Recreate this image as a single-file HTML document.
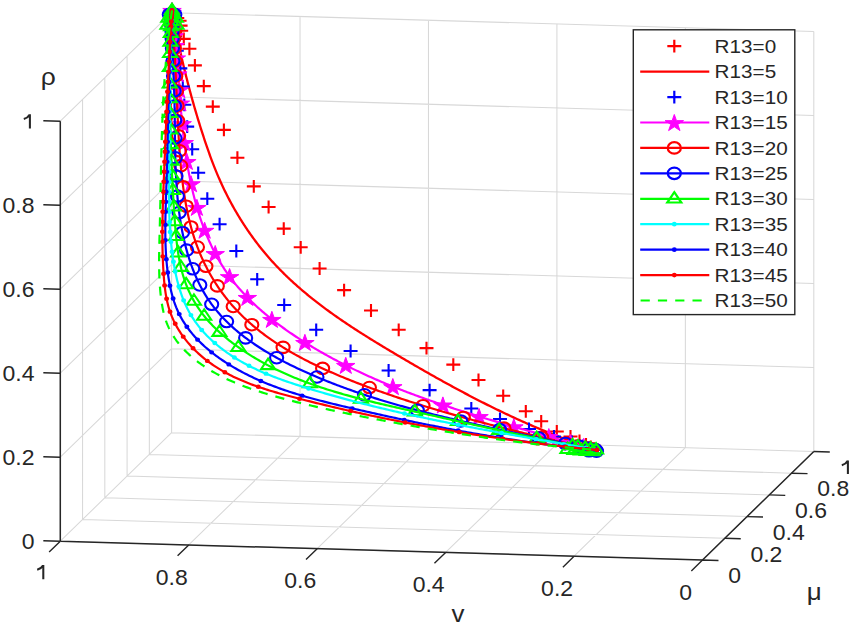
<!DOCTYPE html>
<html><head><meta charset="utf-8"><style>
html,body{margin:0;padding:0;background:#fff;}
svg{display:block;}
text{font-family:"Liberation Sans",sans-serif;fill:#262626;}
</style></head><body>
<svg width="851" height="624" viewBox="0 0 851 624">
<rect width="851" height="624" fill="#fff"/>
<path d="M702.5 560L813.8 451.5M60.3 541.2L702.5 560M574.06 556.24L685.36 447.74M82.56 519.5L724.76 538.3M445.62 552.48L556.92 443.98M104.82 497.8L747.02 516.6M317.18 548.72L428.48 440.22M127.08 476.1L769.28 494.9M188.74 544.96L300.04 436.46M149.34 454.4L791.54 473.2M60.3 541.2L171.6 432.7M171.6 432.7L813.8 451.5M60.3 541.2L60.3 121.2M60.3 541.2L171.6 432.7M82.56 519.5L82.56 99.5M60.3 457.2L171.6 348.7M104.82 497.8L104.82 77.8M60.3 373.2L171.6 264.7M127.08 476.1L127.08 56.1M60.3 289.2L171.6 180.7M149.34 454.4L149.34 34.4M60.3 205.2L171.6 96.7M171.6 432.7L171.6 12.7M60.3 121.2L171.6 12.7M813.8 451.5L813.8 31.5M171.6 432.7L813.8 451.5M685.36 447.74L685.36 27.74M171.6 348.7L813.8 367.5M556.92 443.98L556.92 23.98M171.6 264.7L813.8 283.5M428.48 440.22L428.48 20.22M171.6 180.7L813.8 199.5M300.04 436.46L300.04 16.46M171.6 96.7L813.8 115.5M171.6 432.7L171.6 12.7M171.6 12.7L813.8 31.5" stroke="#d8d8d8" stroke-width="1.05" fill="none"/>
<path d="M165.32 11H179.28M172.3 4.6V17.4M167.52 15H181.48M174.5 8.6V21.4M170.32 18H184.28M177.3 11.6V24.4M172.62 20.8H186.58M179.6 14.4V27.2M173.62 25.6H187.58M180.6 19.2V32M174.22 30.8H188.18M181.2 24.4V37.2M176.82 38.9H190.78M183.8 32.5V45.3M182.42 48.8H196.38M189.4 42.4V55.2M187.92 65.4H201.88M194.9 59V71.8M196.82 86.1H210.78M203.8 79.7V92.5M205.82 106.6H219.78M212.8 100.2V113M216.92 129.9H230.88M223.9 123.5V136.3M230.42 157.7H244.38M237.4 151.3V164.1M246.82 186.4H260.78M253.8 180V192.8M261.62 207H275.58M268.6 200.6V213.4M276.77 228.6H290.73M283.75 222.2V235M293.72 247.3H307.68M300.7 240.9V253.7M312.62 268.5H326.58M319.6 262.1V274.9M337.12 290.1H351.08M344.1 283.7V296.5M364.02 310.5H377.98M371 304.1V316.9M391.72 329.8H405.68M398.7 323.4V336.2M419.52 348.1H433.48M426.5 341.7V354.5M446.32 364.6H460.28M453.3 358.2V371M471.52 380H485.48M478.5 373.6V386.4M496.22 395.8H510.18M503.2 389.4V402.2M518.82 411.3H532.78M525.8 404.9V417.7M534.22 421.3H548.18M541.2 414.9V427.7M549.82 431.5H563.78M556.8 425.1V437.9M563.52 436.5H577.48M570.5 430.1V442.9M572.52 441H586.48M579.5 434.6V447.4M579.02 444.5H592.98M586 438.1V450.9M583.82 447H597.78M590.8 440.6V453.4M587.22 448.8H601.18M594.2 442.4V455.2M589.52 449.8H603.48M596.5 443.4V456.2" stroke="#ff0000" stroke-width="2.1" fill="none"/>
<path d="M172 10.3L172.3 11.94L172.6 13.58L172.9 15.21L173.2 16.84L173.51 18.47L173.81 20.1L174.12 21.73L174.44 23.35L174.75 24.97L175.07 26.59L175.39 28.21L175.71 29.83L176.03 31.44L176.36 33.05L176.68 34.66L177.01 36.27L177.35 37.88L177.68 39.48L178.02 41.09L178.36 42.69L178.7 44.29L179.04 45.88L179.39 47.48L179.74 49.07L180.09 50.67L180.44 52.26L180.8 53.85L181.16 55.43L181.52 57.02L181.88 58.6L182.25 60.19L182.61 61.77L182.98 63.35L183.36 64.92L183.73 66.5L184.11 68.07L184.49 69.65L184.87 71.22L185.26 72.79L185.65 74.36L186.04 75.93L186.43 77.49L186.83 79.06L187.23 80.62L187.63 82.18L188.03 83.75L188.44 85.31L188.85 86.86L189.26 88.42L189.67 89.98L190.09 91.53L190.51 93.09L190.93 94.64L191.35 96.19L191.78 97.74L192.21 99.29L192.64 100.84L193.08 102.39L193.52 103.93L193.96 105.48L194.4 107.02L194.85 108.57L195.3 110.11L195.75 111.65L196.2 113.19L196.66 114.73L197.12 116.27L197.59 117.81L198.05 119.34L198.52 120.88L198.99 122.42L199.47 123.95L199.95 125.49L200.43 127.02L200.91 128.55L201.4 130.08L201.89 131.62L202.38 133.15L202.87 134.68L203.37 136.21L203.87 137.74L204.38 139.26L204.88 140.79L205.39 142.32L205.91 143.84L206.43 145.37L206.95 146.89L207.48 148.42L208.01 149.94L208.54 151.46L209.08 152.98L209.63 154.5L210.18 156.02L210.73 157.53L211.29 159.05L211.86 160.56L212.43 162.07L213.01 163.58L213.59 165.09L214.18 166.6L214.78 168.1L215.38 169.6L215.99 171.1L216.61 172.6L217.23 174.1L217.86 175.59L218.5 177.09L219.15 178.58L219.8 180.06L220.46 181.55L221.13 183.03L221.81 184.51L222.5 185.99L223.19 187.46L223.89 188.93L224.6 190.4L225.32 191.87L226.04 193.33L226.77 194.79L227.51 196.25L228.26 197.7L229.02 199.15L229.78 200.6L230.55 202.04L231.33 203.48L232.12 204.92L232.91 206.35L233.71 207.78L234.52 209.2L235.34 210.62L236.16 212.04L236.99 213.45L237.83 214.86L238.68 216.27L239.53 217.67L240.39 219.06L241.26 220.45L242.14 221.84L243.02 223.22L243.91 224.6L244.81 225.97L245.72 227.34L246.63 228.7L247.55 230.06L248.48 231.41L249.41 232.75L250.35 234.1L251.3 235.43L252.26 236.76L253.22 238.09L254.19 239.41L255.17 240.72L256.15 242.03L257.15 243.33L258.14 244.63L259.15 245.92L260.16 247.2L261.18 248.48L262.21 249.75L263.24 251.02L264.28 252.28L265.33 253.53L266.39 254.78L267.45 256.02L268.51 257.25L269.59 258.48L270.67 259.7L271.76 260.91L272.85 262.12L273.96 263.32L275.06 264.51L276.18 265.7L277.3 266.88L278.43 268.05L279.56 269.22L280.7 270.39L281.84 271.54L283 272.69L284.15 273.84L285.32 274.97L286.49 276.11L287.66 277.23L288.84 278.35L290.03 279.47L291.22 280.58L292.42 281.68L293.62 282.78L294.83 283.87L296.04 284.96L297.26 286.04L298.49 287.11L299.72 288.18L300.95 289.25L302.19 290.31L303.43 291.37L304.68 292.42L305.94 293.46L307.19 294.5L308.46 295.54L309.72 296.57L311 297.6L312.27 298.62L313.55 299.63L314.84 300.65L316.13 301.65L317.42 302.66L318.72 303.65L320.02 304.65L321.33 305.64L322.64 306.63L323.95 307.61L325.27 308.58L326.59 309.56L327.91 310.53L329.24 311.49L330.57 312.45L331.91 313.41L333.25 314.37L334.59 315.32L335.93 316.26L337.28 317.21L338.63 318.14L339.99 319.08L341.34 320.01L342.7 320.94L344.07 321.87L345.43 322.79L346.8 323.71L348.17 324.63L349.55 325.54L350.92 326.45L352.3 327.36L353.68 328.26L355.07 329.16L356.45 330.06L357.84 330.95L359.23 331.85L360.62 332.74L362.02 333.62L363.41 334.51L364.81 335.39L366.21 336.27L367.61 337.15L369.01 338.03L370.42 338.9L371.82 339.77L373.23 340.64L374.64 341.51L376.05 342.37L377.46 343.23L378.87 344.1L380.29 344.95L381.7 345.81L383.12 346.67L384.54 347.52L385.95 348.37L387.37 349.23L388.79 350.07L390.21 350.92L391.63 351.77L393.05 352.61L394.47 353.46L395.89 354.3L397.32 355.14L398.74 355.98L400.16 356.82L401.58 357.66L403.01 358.5L404.43 359.33L405.85 360.17L407.28 361L408.7 361.83L410.13 362.67L411.55 363.5L412.98 364.32L414.4 365.15L415.83 365.98L417.25 366.8L418.68 367.63L420.11 368.45L421.54 369.27L422.96 370.09L424.39 370.9L425.82 371.72L427.25 372.54L428.68 373.35L430.11 374.16L431.54 374.97L432.98 375.78L434.41 376.58L435.84 377.39L437.28 378.19L438.71 378.99L440.14 379.79L441.58 380.59L443.02 381.39L444.45 382.18L445.89 382.98L447.33 383.77L448.77 384.56L450.21 385.35L451.65 386.13L453.09 386.92L454.53 387.7L455.97 388.48L457.41 389.25L458.86 390.03L460.3 390.8L461.75 391.58L463.2 392.35L464.64 393.11L466.09 393.88L467.54 394.64L468.99 395.4L470.44 396.16L471.89 396.92L473.35 397.68L474.8 398.43L476.26 399.18L477.71 399.93L479.17 400.67L480.63 401.42L482.09 402.16L483.55 402.9L485.01 403.63L486.47 404.37L487.93 405.1L489.4 405.83L490.86 406.56L492.33 407.28L493.8 408L495.26 408.72L496.73 409.44L498.2 410.15L499.68 410.86L501.15 411.57L502.62 412.28L504.1 412.98L505.58 413.68L507.06 414.38L508.54 415.08L510.02 415.77L511.5 416.46L512.98 417.15L514.47 417.83L515.95 418.51L517.44 419.19L518.93 419.87L520.42 420.54L521.91 421.21L523.4 421.88L524.9 422.54L526.4 423.2L527.89 423.86L529.39 424.52L530.89 425.17L532.39 425.82L533.9 426.46L535.4 427.1L536.91 427.74L538.42 428.38L539.93 429.01L541.44 429.64L542.95 430.27L544.46 430.89L545.98 431.51L547.5 432.13L549.02 432.75L550.54 433.36L552.06 433.96L553.58 434.57L555.11 435.17L556.64 435.76L558.17 436.36L559.7 436.95L561.23 437.53L562.76 438.12L564.3 438.69L565.84 439.27L567.38 439.84L568.92 440.41L570.46 440.98L572.01 441.54L573.56 442.09L575.11 442.65L576.66 443.2L578.21 443.75L579.76 444.29L581.32 444.83L582.88 445.36L584.44 445.89L586 446.42L587.57 446.94L589.14 447.46L590.7 447.98L592.27 448.49L593.85 449L595.42 449.5L597 450" stroke="#ff0000" stroke-width="2.3" fill="none" stroke-linejoin="round"/>
<path d="M165.02 10.3H178.98M172 3.9V16.7M164.95 12.8H178.91M171.93 6.4V19.2M164.96 16.3H178.91M171.94 9.9V22.7M165.17 21.19H179.12M172.14 14.79V27.59M165.8 28.02H179.76M172.78 21.62V34.42M167.23 37.52H181.18M174.21 31.12V43.92M169.85 50.71H183.8M176.83 44.31V57.11M173.38 68.36H187.33M180.36 61.96V74.76M175.82 86.6H189.78M182.8 80.2V93M177.32 104.8H191.28M184.3 98.4V111.2M180.22 126.6H194.18M187.2 120.2V133M185.22 149.2H199.18M192.2 142.8V155.6M191.22 172.8H205.18M198.2 166.4V179.2M200.32 198.7H214.28M207.3 192.3V205.1M212.62 224.2H226.58M219.6 217.8V230.6M229.32 251H243.28M236.3 244.6V257.4M250.22 279.3H264.18M257.2 272.9V285.7M277.22 305H291.18M284.2 298.6V311.4M309.22 329.8H323.18M316.2 323.4V336.2M343.62 351H357.58M350.6 344.6V357.4M381.62 370.5H395.58M388.6 364.1V376.9M422.62 390.1H436.58M429.6 383.7V396.5M464.32 408.5H478.28M471.3 402.1V414.9M493.02 419H506.98M500 412.6V425.4M522.02 429H535.98M529 422.6V435.4M547.02 436.5H560.98M554 430.1V442.9M565.02 442H578.98M572 435.6V448.4M576.02 445.8H589.98M583 439.4V452.2M582.82 448H596.78M589.8 441.6V454.4M587.32 449.3H601.28M594.3 442.9V455.7M589.62 449.9H603.58M596.6 443.5V456.3" stroke="#0000ff" stroke-width="2.1" fill="none"/>
<path d="M172 10.3L172.14 12.03L172.28 13.77L172.42 15.5L172.57 17.23L172.72 18.96L172.86 20.69L173.02 22.42L173.17 24.14L173.32 25.87L173.48 27.59L173.63 29.31L173.79 31.03L173.95 32.76L174.11 34.48L174.27 36.19L174.43 37.91L174.59 39.63L174.76 41.35L174.92 43.06L175.08 44.78L175.25 46.49L175.41 48.21L175.58 49.92L175.74 51.63L175.91 53.34L176.07 55.06L176.24 56.77L176.4 58.48L176.56 60.19L176.73 61.9L176.89 63.61L177.05 65.32L177.22 67.03L177.38 68.74L177.54 70.45L177.7 72.15L177.85 73.86L178.01 75.57L178.17 77.28L178.32 78.99L178.47 80.7L178.63 82.41L178.78 84.12L178.92 85.82L179.07 87.53L179.22 89.24L179.36 90.95L179.51 92.66L179.65 94.37L179.79 96.08L179.93 97.79L180.08 99.51L180.22 101.22L180.36 102.93L180.5 104.64L180.65 106.35L180.79 108.07L180.94 109.78L181.09 111.49L181.24 113.21L181.39 114.92L181.54 116.63L181.7 118.35L181.86 120.07L182.02 121.78L182.18 123.5L182.34 125.22L182.51 126.93L182.69 128.65L182.86 130.37L183.04 132.09L183.23 133.81L183.42 135.53L183.61 137.25L183.81 138.97L184.01 140.7L184.22 142.42L184.43 144.14L184.65 145.87L184.87 147.59L185.1 149.32L185.33 151.04L185.57 152.77L185.82 154.5L186.07 156.22L186.33 157.95L186.59 159.67L186.86 161.39L187.14 163.12L187.42 164.84L187.71 166.56L188.01 168.28L188.31 170L188.62 171.72L188.94 173.44L189.26 175.15L189.59 176.87L189.93 178.58L190.28 180.29L190.63 182L190.99 183.71L191.36 185.41L191.74 187.11L192.12 188.81L192.51 190.51L192.92 192.2L193.32 193.9L193.74 195.58L194.17 197.27L194.6 198.95L195.05 200.63L195.5 202.31L195.96 203.98L196.43 205.65L196.91 207.32L197.4 208.98L197.89 210.64L198.4 212.29L198.92 213.94L199.44 215.58L199.98 217.23L200.52 218.86L201.08 220.49L201.64 222.12L202.22 223.74L202.81 225.36L203.4 226.97L204.01 228.58L204.63 230.18L205.25 231.77L205.89 233.36L206.54 234.95L207.2 236.53L207.87 238.1L208.56 239.67L209.25 241.23L209.96 242.78L210.67 244.33L211.4 245.87L212.14 247.41L212.9 248.93L213.66 250.45L214.44 251.97L215.22 253.47L216.02 254.97L216.84 256.47L217.66 257.95L218.5 259.43L219.35 260.9L220.22 262.36L221.09 263.81L221.98 265.26L222.88 266.7L223.8 268.13L224.73 269.55L225.67 270.96L226.63 272.36L227.6 273.76L228.58 275.14L229.58 276.52L230.59 277.89L231.61 279.25L232.65 280.6L233.7 281.94L234.77 283.27L235.85 284.59L236.94 285.9L238.04 287.21L239.16 288.51L240.29 289.79L241.43 291.07L242.58 292.34L243.74 293.61L244.92 294.86L246.1 296.1L247.3 297.34L248.51 298.57L249.73 299.79L250.95 301L252.19 302.2L253.44 303.4L254.7 304.59L255.97 305.77L257.25 306.94L258.54 308.1L259.83 309.26L261.14 310.41L262.45 311.55L263.77 312.68L265.1 313.8L266.44 314.92L267.79 316.03L269.14 317.13L270.5 318.22L271.87 319.31L273.25 320.39L274.63 321.46L276.02 322.53L277.42 323.59L278.82 324.64L280.23 325.68L281.64 326.72L283.06 327.75L284.49 328.77L285.92 329.79L287.35 330.79L288.79 331.8L290.24 332.79L291.69 333.78L293.14 334.76L294.6 335.74L296.06 336.71L297.53 337.67L299 338.62L300.47 339.57L301.94 340.52L303.42 341.45L304.9 342.38L306.39 343.31L307.87 344.23L309.36 345.14L310.85 346.04L312.34 346.94L313.84 347.84L315.34 348.73L316.84 349.61L318.34 350.48L319.84 351.36L321.35 352.22L322.86 353.08L324.37 353.93L325.88 354.78L327.4 355.62L328.92 356.46L330.44 357.29L331.96 358.12L333.48 358.94L335.01 359.75L336.54 360.56L338.07 361.36L339.6 362.16L341.13 362.96L342.67 363.75L344.21 364.53L345.75 365.31L347.29 366.08L348.84 366.85L350.38 367.61L351.93 368.37L353.48 369.12L355.04 369.87L356.59 370.62L358.15 371.36L359.7 372.09L361.26 372.82L362.83 373.55L364.39 374.27L365.95 374.98L367.52 375.7L369.09 376.4L370.66 377.11L372.23 377.81L373.81 378.5L375.38 379.19L376.96 379.88L378.54 380.56L380.12 381.23L381.7 381.91L383.29 382.58L384.87 383.24L386.46 383.9L388.05 384.56L389.64 385.22L391.23 385.87L392.82 386.51L394.42 387.15L396.02 387.79L397.61 388.43L399.21 389.06L400.81 389.69L402.42 390.31L404.02 390.93L405.63 391.55L407.23 392.16L408.84 392.77L410.45 393.38L412.06 393.98L413.67 394.58L415.29 395.18L416.9 395.78L418.52 396.37L420.13 396.96L421.75 397.54L423.37 398.12L424.99 398.7L426.61 399.28L428.24 399.85L429.86 400.42L431.49 400.99L433.11 401.56L434.74 402.12L436.37 402.68L438 403.24L439.63 403.79L441.26 404.34L442.9 404.89L444.53 405.44L446.17 405.99L447.8 406.53L449.44 407.07L451.08 407.61L452.72 408.14L454.36 408.68L456 409.21L457.64 409.74L459.28 410.26L460.93 410.79L462.57 411.31L464.22 411.83L465.86 412.35L467.51 412.87L469.16 413.38L470.8 413.9L472.45 414.41L474.1 414.92L475.75 415.43L477.41 415.93L479.06 416.44L480.71 416.94L482.36 417.44L484.02 417.94L485.67 418.44L487.33 418.94L488.98 419.43L490.64 419.92L492.29 420.42L493.95 420.91L495.61 421.4L497.27 421.88L498.93 422.37L500.58 422.86L502.24 423.34L503.9 423.82L505.56 424.3L507.22 424.79L508.89 425.26L510.55 425.74L512.21 426.22L513.87 426.7L515.53 427.17L517.2 427.65L518.86 428.12L520.52 428.59L522.19 429.07L523.85 429.54L525.51 430.01L527.18 430.48L528.84 430.95L530.51 431.41L532.17 431.88L533.83 432.35L535.5 432.82L537.16 433.28L538.83 433.75L540.49 434.21L542.16 434.68L543.82 435.14L545.49 435.61L547.15 436.07L548.82 436.53L550.48 437L552.15 437.46L553.81 437.92L555.47 438.38L557.14 438.85L558.8 439.31L560.47 439.77L562.13 440.23L563.79 440.7L565.46 441.16L567.12 441.62L568.78 442.08L570.45 442.55L572.11 443.01L573.77 443.47L575.43 443.94L577.09 444.4L578.76 444.86L580.42 445.33L582.08 445.79L583.74 446.26L585.4 446.72L587.06 447.19L588.71 447.66L590.37 448.12L592.03 448.59L593.69 449.06L595.34 449.53L597 450" stroke="#ff00ff" stroke-width="2.2" fill="none" stroke-linejoin="round"/>
<path d="M172 2.29L174.18 8.44L181.22 8.44L175.52 12.24L177.7 18.39L172 14.59L166.3 18.39L168.47 12.24L162.77 8.44L169.82 8.44ZM172.16 4.28L174.34 10.43L181.38 10.43L175.68 14.23L177.86 20.38L172.16 16.58L166.46 20.38L168.63 14.23L162.93 10.43L169.98 10.43ZM172.37 6.87L174.55 13.02L181.6 13.02L175.9 16.83L178.07 22.98L172.37 19.17L166.67 22.98L168.85 16.83L163.15 13.02L170.19 13.02ZM172.66 10.24L174.83 16.39L181.88 16.39L176.18 20.19L178.36 26.34L172.66 22.54L166.95 26.34L169.13 20.19L163.43 16.39L170.48 16.39ZM173.03 14.62L175.21 20.77L182.26 20.77L176.56 24.57L178.74 30.72L173.03 26.92L167.33 30.72L169.51 24.57L163.81 20.77L170.86 20.77ZM173.54 20.31L175.72 26.46L182.77 26.46L177.07 30.26L179.25 36.41L173.54 32.61L167.84 36.41L170.02 30.26L164.32 26.46L171.36 26.46ZM174.22 27.7L176.4 33.85L183.45 33.85L177.75 37.66L179.93 43.8L174.22 40L168.52 43.8L170.7 37.66L165 33.85L172.05 33.85ZM175.14 37.31L177.31 43.46L184.36 43.46L178.66 47.27L180.84 53.42L175.14 49.61L169.43 53.42L171.61 47.27L165.91 43.46L172.96 43.46ZM176.34 49.81L178.52 55.96L185.56 55.96L179.86 59.76L182.04 65.91L176.34 62.11L170.63 65.91L172.81 59.76L167.11 55.96L174.16 55.96ZM177.84 65.74L180.02 71.89L187.07 71.89L181.37 75.69L183.55 81.84L177.84 78.04L172.14 81.84L174.32 75.69L168.62 71.89L175.67 71.89ZM179.25 81.67L181.43 87.82L188.48 87.82L182.78 91.62L184.96 97.77L179.25 93.97L173.55 97.77L175.73 91.62L170.03 87.82L177.08 87.82ZM180.36 94.92L182.54 101.07L189.59 101.07L183.89 104.87L186.06 111.02L180.36 107.22L174.66 111.02L176.84 104.87L171.14 101.07L178.18 101.07ZM182.18 115.49L184.36 121.64L191.4 121.64L185.7 125.44L187.88 131.59L182.18 127.79L176.48 131.59L178.65 125.44L172.95 121.64L180 121.64ZM184.22 134.41L186.39 140.56L193.44 140.56L187.74 144.36L189.92 150.51L184.22 146.71L178.51 150.51L180.69 144.36L174.99 140.56L182.04 140.56ZM186.86 153.38L189.04 159.53L196.09 159.53L190.39 163.34L192.56 169.48L186.86 165.68L181.16 169.48L183.34 163.34L177.64 159.53L184.68 159.53ZM190.99 175.7L193.17 181.85L200.22 181.85L194.52 185.65L196.69 191.8L190.99 188L185.29 191.8L187.47 185.65L181.77 181.85L188.81 181.85ZM196.91 199.31L199.09 205.46L206.13 205.46L200.43 209.26L202.61 215.41L196.91 211.61L191.2 215.41L193.38 209.26L187.68 205.46L194.73 205.46ZM204.63 222.17L206.8 228.32L213.85 228.32L208.15 232.12L210.33 238.27L204.63 234.47L198.92 238.27L201.1 232.12L195.4 228.32L202.45 228.32ZM215.22 245.46L217.4 251.61L224.45 251.61L218.75 255.42L220.93 261.56L215.22 257.76L209.52 261.56L211.7 255.42L206 251.61L213.05 251.61ZM229.58 268.51L231.76 274.66L238.8 274.66L233.1 278.46L235.28 284.61L229.58 280.81L223.88 284.61L226.05 278.46L220.35 274.66L227.4 274.66ZM247.3 289.33L249.48 295.48L256.52 295.48L250.82 299.28L253 305.43L247.3 301.63L241.6 305.43L243.77 299.28L238.07 295.48L245.12 295.48ZM271.87 311.3L274.05 317.45L281.1 317.45L275.4 321.25L277.58 327.4L271.87 323.6L266.17 327.4L268.35 321.25L262.65 317.45L269.7 317.45ZM304.9 334.37L307.08 340.52L314.13 340.52L308.43 344.32L310.6 350.47L304.9 346.67L299.2 350.47L301.38 344.32L295.68 340.52L302.72 340.52ZM345.75 357.3L347.93 363.45L354.98 363.45L349.27 367.25L351.45 373.4L345.75 369.6L340.05 373.4L342.23 367.25L336.52 363.45L343.57 363.45ZM392.82 378.5L395 384.65L402.05 384.65L396.35 388.45L398.53 394.6L392.82 390.8L387.12 394.6L389.3 388.45L383.6 384.65L390.65 384.65ZM442.9 396.88L445.08 403.03L452.12 403.03L446.42 406.83L448.6 412.98L442.9 409.18L437.2 412.98L439.37 406.83L433.67 403.03L440.72 403.03ZM479.06 408.43L481.24 414.58L488.28 414.58L482.58 418.38L484.76 424.53L479.06 420.73L473.35 424.53L475.53 418.38L469.83 414.58L476.88 414.58ZM513.87 418.69L516.05 424.84L523.1 424.84L517.4 428.64L519.57 434.79L513.87 430.99L508.17 434.79L510.35 428.64L504.64 424.84L511.69 424.84ZM548.82 428.52L550.99 434.67L558.04 434.67L552.34 438.47L554.52 444.62L548.82 440.82L543.11 444.62L545.29 438.47L539.59 434.67L546.64 434.67ZM570.45 434.54L572.63 440.69L579.67 440.69L573.97 444.49L576.15 450.64L570.45 446.84L564.74 450.64L566.92 444.49L561.22 440.69L568.27 440.69ZM583.74 438.25L585.92 444.4L592.96 444.4L587.26 448.2L589.44 454.35L583.74 450.55L578.03 454.35L580.21 448.2L574.51 444.4L581.56 444.4Z" stroke="#ff00ff" stroke-width="1" fill="#ff00ff"/>
<path d="M172 10.3L172.12 12.07L172.24 13.83L172.36 15.6L172.48 17.36L172.6 19.13L172.71 20.89L172.83 22.66L172.94 24.42L173.05 26.18L173.16 27.94L173.27 29.7L173.38 31.46L173.49 33.22L173.6 34.98L173.7 36.74L173.8 38.5L173.91 40.26L174.01 42.02L174.11 43.78L174.21 45.53L174.31 47.29L174.4 49.05L174.5 50.81L174.6 52.56L174.69 54.32L174.78 56.08L174.88 57.83L174.97 59.59L175.06 61.35L175.15 63.1L175.24 64.86L175.33 66.62L175.42 68.38L175.5 70.13L175.59 71.89L175.68 73.65L175.76 75.41L175.85 77.16L175.93 78.92L176.01 80.68L176.1 82.44L176.18 84.2L176.26 85.96L176.34 87.72L176.42 89.48L176.5 91.24L176.58 93L176.66 94.76L176.74 96.52L176.82 98.29L176.89 100.05L176.97 101.81L177.05 103.58L177.13 105.34L177.2 107.11L177.28 108.87L177.36 110.64L177.44 112.41L177.52 114.17L177.6 115.94L177.68 117.71L177.76 119.48L177.84 121.25L177.93 123.02L178.01 124.79L178.1 126.56L178.19 128.33L178.28 130.1L178.38 131.87L178.47 133.65L178.57 135.42L178.67 137.19L178.78 138.96L178.89 140.74L179 142.51L179.11 144.28L179.23 146.06L179.35 147.83L179.47 149.61L179.6 151.38L179.73 153.15L179.86 154.93L180 156.7L180.15 158.48L180.3 160.25L180.45 162.03L180.61 163.8L180.77 165.58L180.94 167.35L181.11 169.13L181.29 170.9L181.47 172.68L181.66 174.45L181.86 176.23L182.06 178L182.27 179.77L182.48 181.55L182.7 183.32L182.93 185.09L183.17 186.86L183.41 188.63L183.66 190.4L183.92 192.16L184.18 193.93L184.45 195.69L184.74 197.45L185.03 199.21L185.33 200.97L185.63 202.72L185.95 204.47L186.28 206.22L186.61 207.97L186.96 209.71L187.32 211.45L187.68 213.19L188.06 214.93L188.45 216.66L188.84 218.39L189.25 220.11L189.67 221.83L190.1 223.54L190.55 225.26L191 226.96L191.47 228.67L191.95 230.36L192.44 232.06L192.94 233.75L193.46 235.43L193.99 237.11L194.53 238.78L195.09 240.45L195.66 242.12L196.24 243.77L196.84 245.42L197.45 247.07L198.08 248.71L198.72 250.34L199.37 251.97L200.04 253.59L200.73 255.2L201.42 256.81L202.14 258.41L202.86 260L203.6 261.59L204.36 263.17L205.12 264.74L205.91 266.3L206.7 267.86L207.51 269.41L208.33 270.95L209.17 272.48L210.02 274L210.89 275.52L211.76 277.03L212.65 278.53L213.56 280.02L214.48 281.5L215.41 282.97L216.35 284.43L217.31 285.89L218.28 287.33L219.26 288.77L220.26 290.19L221.27 291.61L222.29 293.01L223.32 294.41L224.37 295.79L225.43 297.17L226.5 298.53L227.59 299.89L228.69 301.23L229.8 302.56L230.92 303.89L232.06 305.2L233.2 306.5L234.36 307.78L235.53 309.06L236.72 310.33L237.91 311.58L239.12 312.83L240.34 314.06L241.57 315.28L242.81 316.49L244.06 317.69L245.33 318.88L246.6 320.06L247.89 321.23L249.18 322.39L250.49 323.54L251.81 324.68L253.13 325.81L254.47 326.93L255.81 328.04L257.17 329.14L258.54 330.23L259.91 331.31L261.29 332.38L262.69 333.45L264.09 334.5L265.5 335.54L266.92 336.58L268.35 337.6L269.78 338.62L271.23 339.62L272.68 340.62L274.14 341.61L275.61 342.59L277.09 343.57L278.57 344.53L280.06 345.48L281.56 346.43L283.07 347.37L284.58 348.3L286.1 349.22L287.63 350.14L289.16 351.05L290.7 351.95L292.24 352.84L293.8 353.72L295.35 354.6L296.92 355.47L298.49 356.33L300.06 357.18L301.64 358.03L303.23 358.87L304.82 359.7L306.42 360.52L308.02 361.34L309.62 362.15L311.23 362.96L312.85 363.76L314.47 364.55L316.09 365.34L317.72 366.11L319.35 366.89L320.98 367.65L322.62 368.41L324.26 369.17L325.91 369.92L327.55 370.66L329.21 371.4L330.86 372.13L332.52 372.85L334.18 373.57L335.84 374.29L337.5 374.99L339.17 375.7L340.84 376.4L342.51 377.09L344.18 377.78L345.85 378.46L347.53 379.14L349.21 379.81L350.88 380.48L352.56 381.14L354.24 381.8L355.92 382.46L357.61 383.11L359.29 383.76L360.97 384.4L362.65 385.04L364.33 385.67L366.02 386.3L367.7 386.93L369.38 387.55L371.06 388.17L372.74 388.78L374.42 389.39L376.1 390L377.78 390.61L379.46 391.21L381.14 391.8L382.82 392.4L384.5 392.99L386.18 393.57L387.85 394.16L389.53 394.74L391.21 395.31L392.88 395.89L394.56 396.46L396.24 397.02L397.91 397.59L399.59 398.15L401.26 398.7L402.94 399.26L404.62 399.81L406.29 400.36L407.97 400.9L409.64 401.45L411.32 401.99L412.99 402.52L414.67 403.06L416.34 403.59L418.02 404.12L419.69 404.64L421.37 405.16L423.05 405.68L424.72 406.2L426.4 406.72L428.07 407.23L429.75 407.74L431.43 408.25L433.1 408.75L434.78 409.25L436.46 409.75L438.13 410.25L439.81 410.75L441.49 411.24L443.17 411.73L444.85 412.22L446.53 412.7L448.21 413.19L449.89 413.67L451.57 414.15L453.25 414.63L454.93 415.1L456.61 415.58L458.29 416.05L459.98 416.52L461.66 416.99L463.34 417.45L465.03 417.92L466.71 418.38L468.4 418.84L470.09 419.3L471.77 419.76L473.46 420.21L475.15 420.67L476.84 421.12L478.53 421.57L480.22 422.02L481.91 422.47L483.61 422.91L485.3 423.36L486.99 423.8L488.69 424.24L490.38 424.69L492.08 425.12L493.78 425.56L495.48 426L497.18 426.44L498.88 426.87L500.58 427.3L502.28 427.74L503.99 428.17L505.69 428.6L507.4 429.03L509.1 429.46L510.81 429.88L512.52 430.31L514.23 430.74L515.94 431.16L517.65 431.58L519.37 432.01L521.08 432.43L522.79 432.85L524.51 433.27L526.22 433.69L527.94 434.1L529.66 434.52L531.38 434.94L533.09 435.35L534.81 435.76L536.53 436.18L538.26 436.59L539.98 437L541.7 437.41L543.42 437.82L545.15 438.22L546.87 438.63L548.59 439.04L550.32 439.44L552.04 439.84L553.77 440.25L555.5 440.65L557.22 441.05L558.95 441.45L560.68 441.85L562.4 442.24L564.13 442.64L565.86 443.04L567.59 443.43L569.32 443.83L571.05 444.22L572.78 444.61L574.51 445L576.24 445.39L577.97 445.78L579.7 446.17L581.43 446.56L583.16 446.95L584.89 447.33L586.62 447.72L588.35 448.1L590.08 448.48L591.81 448.86L593.54 449.24L595.27 449.62L597 450" stroke="#ff0000" stroke-width="2.2" fill="none" stroke-linejoin="round"/>
<path d="M165.65 13.29a6.55 5.75 0 1 0 13.11 0a6.55 5.75 0 1 0 -13.11 0M165.79 15.29a6.55 5.75 0 1 0 13.11 0a6.55 5.75 0 1 0 -13.11 0M165.96 17.88a6.55 5.75 0 1 0 13.11 0a6.55 5.75 0 1 0 -13.11 0M166.18 21.26a6.55 5.75 0 1 0 13.11 0a6.55 5.75 0 1 0 -13.11 0M166.46 25.64a6.55 5.75 0 1 0 13.11 0a6.55 5.75 0 1 0 -13.11 0M166.82 31.34a6.55 5.75 0 1 0 13.11 0a6.55 5.75 0 1 0 -13.11 0M167.26 38.75a6.55 5.75 0 1 0 13.11 0a6.55 5.75 0 1 0 -13.11 0M167.81 48.39a6.55 5.75 0 1 0 13.11 0a6.55 5.75 0 1 0 -13.11 0M168.48 60.92a6.55 5.75 0 1 0 13.11 0a6.55 5.75 0 1 0 -13.11 0M169.23 75.91a6.55 5.75 0 1 0 13.11 0a6.55 5.75 0 1 0 -13.11 0M169.93 90.89a6.55 5.75 0 1 0 13.11 0a6.55 5.75 0 1 0 -13.11 0M170.59 105.87a6.55 5.75 0 1 0 13.11 0a6.55 5.75 0 1 0 -13.11 0M171.27 120.86a6.55 5.75 0 1 0 13.11 0a6.55 5.75 0 1 0 -13.11 0M172.04 135.84a6.55 5.75 0 1 0 13.11 0a6.55 5.75 0 1 0 -13.11 0M173 150.81a6.55 5.75 0 1 0 13.11 0a6.55 5.75 0 1 0 -13.11 0M174.23 165.76a6.55 5.75 0 1 0 13.11 0a6.55 5.75 0 1 0 -13.11 0M176.61 186.86a6.55 5.75 0 1 0 13.11 0a6.55 5.75 0 1 0 -13.11 0M179.72 206.22a6.55 5.75 0 1 0 13.11 0a6.55 5.75 0 1 0 -13.11 0M184.45 226.96a6.55 5.75 0 1 0 13.11 0a6.55 5.75 0 1 0 -13.11 0M190.9 247.07a6.55 5.75 0 1 0 13.11 0a6.55 5.75 0 1 0 -13.11 0M199.35 266.3a6.55 5.75 0 1 0 13.11 0a6.55 5.75 0 1 0 -13.11 0M210.75 285.89a6.55 5.75 0 1 0 13.11 0a6.55 5.75 0 1 0 -13.11 0M226.65 306.5a6.55 5.75 0 1 0 13.11 0a6.55 5.75 0 1 0 -13.11 0M245.25 324.68a6.55 5.75 0 1 0 13.11 0a6.55 5.75 0 1 0 -13.11 0M276.51 347.37a6.55 5.75 0 1 0 13.11 0a6.55 5.75 0 1 0 -13.11 0M316.06 368.41a6.55 5.75 0 1 0 13.11 0a6.55 5.75 0 1 0 -13.11 0M362.83 387.55a6.55 5.75 0 1 0 13.11 0a6.55 5.75 0 1 0 -13.11 0M416.49 405.68a6.55 5.75 0 1 0 13.11 0a6.55 5.75 0 1 0 -13.11 0M456.79 417.45a6.55 5.75 0 1 0 13.11 0a6.55 5.75 0 1 0 -13.11 0M497.43 428.17a6.55 5.75 0 1 0 13.11 0a6.55 5.75 0 1 0 -13.11 0M535.14 437.41a6.55 5.75 0 1 0 13.11 0a6.55 5.75 0 1 0 -13.11 0M559.31 443.04a6.55 5.75 0 1 0 13.11 0a6.55 5.75 0 1 0 -13.11 0M571.41 445.78a6.55 5.75 0 1 0 13.11 0a6.55 5.75 0 1 0 -13.11 0M580.06 447.72a6.55 5.75 0 1 0 13.11 0a6.55 5.75 0 1 0 -13.11 0M585.25 448.86a6.55 5.75 0 1 0 13.11 0a6.55 5.75 0 1 0 -13.11 0M588.71 449.62a6.55 5.75 0 1 0 13.11 0a6.55 5.75 0 1 0 -13.11 0" stroke="#ff0000" stroke-width="2.1" fill="none"/>
<path d="M172 10.3L171.96 12.12L171.94 13.94L171.91 15.75L171.9 17.57L171.89 19.39L171.89 21.21L171.89 23.02L171.9 24.84L171.91 26.65L171.93 28.47L171.95 30.28L171.98 32.09L172.01 33.9L172.05 35.72L172.09 37.53L172.14 39.34L172.19 41.15L172.24 42.96L172.29 44.77L172.35 46.58L172.41 48.39L172.47 50.19L172.54 52L172.61 53.81L172.68 55.61L172.75 57.42L172.82 59.22L172.9 61.03L172.97 62.83L173.05 64.63L173.12 66.43L173.2 68.24L173.28 70.04L173.36 71.84L173.43 73.64L173.51 75.44L173.59 77.23L173.66 79.03L173.74 80.83L173.81 82.63L173.88 84.42L173.95 86.22L174.02 88.01L174.08 89.8L174.15 91.6L174.21 93.39L174.27 95.18L174.32 96.97L174.37 98.76L174.42 100.55L174.47 102.34L174.51 104.13L174.55 105.92L174.58 107.7L174.62 109.49L174.65 111.28L174.68 113.06L174.7 114.85L174.73 116.64L174.75 118.42L174.78 120.21L174.8 121.99L174.82 123.78L174.84 125.57L174.86 127.35L174.87 129.14L174.89 130.93L174.91 132.72L174.93 134.5L174.95 136.29L174.97 138.08L175 139.87L175.02 141.67L175.04 143.46L175.07 145.25L175.1 147.05L175.13 148.84L175.16 150.64L175.2 152.44L175.24 154.24L175.28 156.04L175.32 157.84L175.37 159.64L175.42 161.45L175.48 163.26L175.54 165.07L175.6 166.88L175.67 168.69L175.75 170.51L175.83 172.32L175.91 174.14L176 175.96L176.09 177.79L176.19 179.61L176.3 181.44L176.41 183.27L176.53 185.1L176.66 186.93L176.79 188.76L176.93 190.59L177.07 192.43L177.23 194.26L177.39 196.09L177.56 197.93L177.73 199.76L177.92 201.59L178.11 203.42L178.31 205.25L178.52 207.08L178.74 208.91L178.97 210.74L179.2 212.56L179.45 214.39L179.71 216.21L179.97 218.03L180.24 219.84L180.53 221.65L180.82 223.46L181.13 225.27L181.45 227.08L181.77 228.88L182.11 230.67L182.46 232.46L182.82 234.25L183.19 236.04L183.57 237.82L183.97 239.59L184.38 241.36L184.8 243.12L185.23 244.88L185.67 246.64L186.13 248.38L186.6 250.12L187.09 251.86L187.58 253.59L188.09 255.31L188.62 257.02L189.16 258.73L189.71 260.43L190.28 262.13L190.86 263.81L191.45 265.49L192.06 267.16L192.69 268.82L193.33 270.48L193.99 272.12L194.66 273.76L195.35 275.38L196.05 277L196.77 278.61L197.51 280.2L198.26 281.79L199.03 283.37L199.82 284.94L200.62 286.5L201.44 288.04L202.28 289.58L203.13 291.1L204.01 292.62L204.9 294.12L205.81 295.61L206.74 297.08L207.68 298.55L208.65 300L209.63 301.44L210.64 302.87L211.66 304.29L212.7 305.69L213.76 307.08L214.84 308.46L215.94 309.82L217.06 311.17L218.19 312.51L219.34 313.84L220.51 315.15L221.7 316.45L222.9 317.74L224.12 319.02L225.35 320.28L226.6 321.54L227.87 322.78L229.15 324.01L230.45 325.23L231.76 326.43L233.09 327.63L234.43 328.81L235.79 329.98L237.15 331.14L238.54 332.3L239.93 333.43L241.34 334.56L242.76 335.68L244.19 336.79L245.64 337.88L247.09 338.97L248.56 340.05L250.04 341.11L251.53 342.16L253.03 343.21L254.54 344.24L256.06 345.27L257.6 346.28L259.14 347.29L260.69 348.28L262.25 349.27L263.81 350.25L265.39 351.21L266.97 352.17L268.57 353.12L270.17 354.06L271.77 354.99L273.39 355.91L275.01 356.82L276.64 357.72L278.27 358.62L279.91 359.5L281.55 360.38L283.2 361.25L284.86 362.11L286.52 362.97L288.19 363.81L289.86 364.65L291.53 365.48L293.21 366.3L294.89 367.11L296.57 367.91L298.26 368.71L299.95 369.5L301.64 370.29L303.33 371.06L305.03 371.83L306.72 372.59L308.42 373.34L310.12 374.09L311.82 374.83L313.52 375.57L315.22 376.29L316.92 377.01L318.62 377.73L320.32 378.44L322.02 379.14L323.72 379.83L325.42 380.52L327.12 381.2L328.81 381.88L330.51 382.55L332.21 383.22L333.91 383.87L335.6 384.53L337.3 385.17L339 385.82L340.69 386.45L342.39 387.08L344.09 387.71L345.78 388.33L347.48 388.94L349.17 389.55L350.87 390.15L352.57 390.75L354.26 391.35L355.96 391.93L357.66 392.52L359.35 393.1L361.05 393.67L362.75 394.24L364.45 394.8L366.15 395.36L367.84 395.92L369.54 396.47L371.24 397.02L372.94 397.56L374.64 398.09L376.34 398.63L378.04 399.16L379.74 399.68L381.44 400.2L383.15 400.72L384.85 401.23L386.55 401.74L388.26 402.25L389.96 402.75L391.67 403.25L393.37 403.74L395.08 404.23L396.79 404.72L398.5 405.21L400.2 405.69L401.91 406.17L403.62 406.64L405.34 407.11L407.05 407.58L408.76 408.05L410.48 408.51L412.19 408.97L413.91 409.42L415.62 409.88L417.34 410.33L419.06 410.78L420.78 411.23L422.5 411.67L424.23 412.11L425.95 412.55L427.67 412.99L429.4 413.42L431.13 413.86L432.86 414.29L434.59 414.72L436.32 415.14L438.05 415.57L439.78 415.99L441.52 416.41L443.26 416.83L444.99 417.25L446.73 417.67L448.48 418.08L450.22 418.5L451.96 418.91L453.71 419.32L455.46 419.73L457.2 420.14L458.96 420.55L460.71 420.95L462.46 421.36L464.22 421.76L465.97 422.17L467.73 422.57L469.49 422.97L471.25 423.37L473.02 423.77L474.78 424.17L476.55 424.57L478.31 424.97L480.08 425.37L481.85 425.76L483.62 426.16L485.39 426.55L487.16 426.94L488.94 427.34L490.71 427.73L492.49 428.12L494.26 428.51L496.04 428.9L497.82 429.28L499.59 429.67L501.37 430.06L503.15 430.44L504.93 430.83L506.71 431.21L508.49 431.6L510.27 431.98L512.05 432.36L513.83 432.74L515.61 433.12L517.4 433.5L519.18 433.88L520.96 434.26L522.74 434.64L524.52 435.02L526.31 435.39L528.09 435.77L529.87 436.14L531.65 436.52L533.43 436.89L535.21 437.27L536.99 437.64L538.77 438.01L540.55 438.38L542.33 438.75L544.11 439.12L545.89 439.49L547.67 439.86L549.44 440.23L551.22 440.6L553 440.96L554.77 441.33L556.55 441.7L558.32 442.06L560.09 442.43L561.86 442.79L563.63 443.16L565.4 443.52L567.17 443.89L568.93 444.25L570.7 444.61L572.46 444.97L574.23 445.33L575.99 445.7L577.75 446.06L579.51 446.42L581.26 446.78L583.02 447.14L584.77 447.49L586.52 447.85L588.27 448.21L590.02 448.57L591.77 448.93L593.52 449.28L595.26 449.64L597 450" stroke="#0000ff" stroke-width="2.2" fill="none" stroke-linejoin="round"/>
<path d="M165.39 13.3a6.55 5.75 0 1 0 13.11 0a6.55 5.75 0 1 0 -13.11 0M165.36 15.3a6.55 5.75 0 1 0 13.11 0a6.55 5.75 0 1 0 -13.11 0M165.34 17.9a6.55 5.75 0 1 0 13.11 0a6.55 5.75 0 1 0 -13.11 0M165.33 21.28a6.55 5.75 0 1 0 13.11 0a6.55 5.75 0 1 0 -13.11 0M165.35 25.67a6.55 5.75 0 1 0 13.11 0a6.55 5.75 0 1 0 -13.11 0M165.42 31.38a6.55 5.75 0 1 0 13.11 0a6.55 5.75 0 1 0 -13.11 0M165.57 38.81a6.55 5.75 0 1 0 13.11 0a6.55 5.75 0 1 0 -13.11 0M165.86 48.46a6.55 5.75 0 1 0 13.11 0a6.55 5.75 0 1 0 -13.11 0M166.34 61a6.55 5.75 0 1 0 13.11 0a6.55 5.75 0 1 0 -13.11 0M166.98 75.98a6.55 5.75 0 1 0 13.11 0a6.55 5.75 0 1 0 -13.11 0M167.57 90.97a6.55 5.75 0 1 0 13.11 0a6.55 5.75 0 1 0 -13.11 0M167.99 105.97a6.55 5.75 0 1 0 13.11 0a6.55 5.75 0 1 0 -13.11 0M168.22 120.21a6.55 5.75 0 1 0 13.11 0a6.55 5.75 0 1 0 -13.11 0M168.42 138.08a6.55 5.75 0 1 0 13.11 0a6.55 5.75 0 1 0 -13.11 0M168.77 157.84a6.55 5.75 0 1 0 13.11 0a6.55 5.75 0 1 0 -13.11 0M169.44 175.96a6.55 5.75 0 1 0 13.11 0a6.55 5.75 0 1 0 -13.11 0M170.83 196.09a6.55 5.75 0 1 0 13.11 0a6.55 5.75 0 1 0 -13.11 0M172.65 212.56a6.55 5.75 0 1 0 13.11 0a6.55 5.75 0 1 0 -13.11 0M175.9 232.46a6.55 5.75 0 1 0 13.11 0a6.55 5.75 0 1 0 -13.11 0M180.05 250.12a6.55 5.75 0 1 0 13.11 0a6.55 5.75 0 1 0 -13.11 0M186.14 268.82a6.55 5.75 0 1 0 13.11 0a6.55 5.75 0 1 0 -13.11 0M193.26 284.94a6.55 5.75 0 1 0 13.11 0a6.55 5.75 0 1 0 -13.11 0M205.11 304.29a6.55 5.75 0 1 0 13.11 0a6.55 5.75 0 1 0 -13.11 0M220.05 321.54a6.55 5.75 0 1 0 13.11 0a6.55 5.75 0 1 0 -13.11 0M239.08 337.88a6.55 5.75 0 1 0 13.11 0a6.55 5.75 0 1 0 -13.11 0M270.08 357.72a6.55 5.75 0 1 0 13.11 0a6.55 5.75 0 1 0 -13.11 0M310.37 377.01a6.55 5.75 0 1 0 13.11 0a6.55 5.75 0 1 0 -13.11 0M357.89 394.8a6.55 5.75 0 1 0 13.11 0a6.55 5.75 0 1 0 -13.11 0M410.79 410.33a6.55 5.75 0 1 0 13.11 0a6.55 5.75 0 1 0 -13.11 0M454.15 420.95a6.55 5.75 0 1 0 13.11 0a6.55 5.75 0 1 0 -13.11 0M493.04 429.67a6.55 5.75 0 1 0 13.11 0a6.55 5.75 0 1 0 -13.11 0M532.22 438.01a6.55 5.75 0 1 0 13.11 0a6.55 5.75 0 1 0 -13.11 0M558.85 443.52a6.55 5.75 0 1 0 13.11 0a6.55 5.75 0 1 0 -13.11 0M572.95 446.42a6.55 5.75 0 1 0 13.11 0a6.55 5.75 0 1 0 -13.11 0M581.72 448.21a6.55 5.75 0 1 0 13.11 0a6.55 5.75 0 1 0 -13.11 0M588.7 449.64a6.55 5.75 0 1 0 13.11 0a6.55 5.75 0 1 0 -13.11 0" stroke="#0000ff" stroke-width="2.1" fill="none"/>
<path d="M162.75 14.5a6.55 5.75 0 1 0 13.11 0a6.55 5.75 0 1 0 -13.11 0M168.25 14.5a6.55 5.75 0 1 0 13.11 0a6.55 5.75 0 1 0 -13.11 0" stroke="#0000ff" stroke-width="2.1" fill="none"/>
<path d="M582.45 450.8a6.55 5.75 0 1 0 13.11 0a6.55 5.75 0 1 0 -13.11 0M589.95 451.2a6.55 5.75 0 1 0 13.11 0a6.55 5.75 0 1 0 -13.11 0" stroke="#0000ff" stroke-width="2.1" fill="none"/>
<path d="M172 10.3L171.89 12.13L171.77 13.96L171.67 15.8L171.56 17.63L171.46 19.46L171.36 21.3L171.27 23.13L171.17 24.96L171.09 26.8L171 28.63L170.92 30.47L170.84 32.3L170.76 34.14L170.69 35.97L170.62 37.81L170.55 39.65L170.48 41.48L170.42 43.32L170.36 45.16L170.31 46.99L170.26 48.83L170.21 50.67L170.16 52.51L170.11 54.34L170.07 56.18L170.03 58.02L170 59.86L169.96 61.7L169.93 63.54L169.9 65.37L169.88 67.21L169.85 69.05L169.83 70.89L169.82 72.73L169.8 74.57L169.79 76.41L169.78 78.25L169.77 80.09L169.76 81.93L169.76 83.77L169.76 85.6L169.76 87.44L169.76 89.28L169.77 91.12L169.78 92.96L169.79 94.8L169.8 96.64L169.81 98.48L169.83 100.32L169.85 102.16L169.87 104L169.9 105.83L169.92 107.67L169.95 109.51L169.98 111.35L170.01 113.19L170.04 115.03L170.08 116.86L170.11 118.7L170.15 120.54L170.19 122.38L170.24 124.21L170.28 126.05L170.33 127.89L170.38 129.72L170.43 131.56L170.48 133.4L170.53 135.23L170.58 137.07L170.64 138.9L170.7 140.74L170.76 142.57L170.82 144.41L170.88 146.24L170.95 148.07L171.01 149.91L171.08 151.74L171.15 153.57L171.22 155.41L171.29 157.24L171.36 159.07L171.44 160.9L171.51 162.73L171.59 164.56L171.67 166.39L171.75 168.22L171.83 170.05L171.91 171.88L172 173.71L172.08 175.54L172.17 177.37L172.26 179.2L172.35 181.03L172.44 182.86L172.53 184.69L172.63 186.52L172.73 188.35L172.83 190.19L172.93 192.02L173.03 193.85L173.14 195.68L173.25 197.52L173.36 199.35L173.47 201.19L173.58 203.02L173.7 204.86L173.81 206.7L173.93 208.53L174.06 210.37L174.18 212.21L174.31 214.05L174.44 215.9L174.57 217.74L174.7 219.59L174.84 221.43L174.98 223.28L175.12 225.13L175.27 226.98L175.42 228.82L175.57 230.67L175.74 232.52L175.9 234.37L176.08 236.22L176.27 238.06L176.46 239.91L176.66 241.75L176.87 243.59L177.1 245.42L177.33 247.26L177.58 249.09L177.84 250.92L178.12 252.74L178.4 254.56L178.71 256.37L179.02 258.18L179.36 259.99L179.71 261.79L180.08 263.58L180.47 265.37L180.88 267.15L181.3 268.92L181.75 270.69L182.22 272.45L182.71 274.2L183.22 275.95L183.75 277.68L184.31 279.41L184.89 281.13L185.5 282.84L186.14 284.54L186.8 286.23L187.49 287.91L188.2 289.58L188.94 291.24L189.71 292.88L190.5 294.52L191.31 296.14L192.16 297.75L193.03 299.35L193.92 300.94L194.84 302.51L195.78 304.07L196.75 305.62L197.74 307.15L198.76 308.67L199.8 310.18L200.86 311.67L201.95 313.14L203.06 314.6L204.2 316.04L205.35 317.47L206.53 318.88L207.73 320.27L208.96 321.65L210.2 323.01L211.46 324.36L212.74 325.69L214.04 327.01L215.36 328.31L216.69 329.6L218.04 330.87L219.41 332.13L220.79 333.37L222.18 334.6L223.59 335.82L225.02 337.02L226.45 338.2L227.9 339.37L229.35 340.53L230.82 341.68L232.3 342.81L233.78 343.93L235.28 345.03L236.78 346.12L238.29 347.2L239.8 348.26L241.32 349.31L242.85 350.35L244.38 351.38L245.92 352.39L247.47 353.4L249.02 354.39L250.58 355.36L252.14 356.33L253.71 357.28L255.28 358.22L256.86 359.16L258.44 360.07L260.03 360.98L261.63 361.88L263.23 362.76L264.83 363.64L266.44 364.5L268.06 365.35L269.68 366.2L271.31 367.03L272.94 367.85L274.57 368.66L276.21 369.46L277.85 370.25L279.5 371.03L281.16 371.81L282.81 372.57L284.48 373.32L286.14 374.06L287.81 374.8L289.49 375.52L291.16 376.24L292.85 376.95L294.53 377.65L296.22 378.34L297.92 379.02L299.62 379.69L301.32 380.36L303.02 381.01L304.73 381.66L306.45 382.3L308.16 382.94L309.88 383.56L311.6 384.18L313.33 384.79L315.06 385.4L316.79 385.99L318.53 386.58L320.26 387.17L322 387.74L323.75 388.31L325.5 388.88L327.24 389.43L329 389.99L330.75 390.53L332.51 391.07L334.27 391.6L336.03 392.13L337.79 392.65L339.56 393.17L341.33 393.68L343.1 394.19L344.87 394.69L346.65 395.18L348.42 395.68L350.2 396.16L351.98 396.64L353.76 397.12L355.55 397.6L357.33 398.07L359.12 398.53L360.91 398.99L362.7 399.45L364.49 399.9L366.28 400.35L368.07 400.8L369.87 401.24L371.66 401.68L373.46 402.12L375.26 402.56L377.06 402.99L378.86 403.42L380.66 403.84L382.46 404.27L384.26 404.69L386.06 405.11L387.86 405.53L389.66 405.94L391.47 406.36L393.27 406.77L395.07 407.18L396.88 407.59L398.68 408L400.48 408.4L402.29 408.81L404.09 409.22L405.9 409.62L407.7 410.02L409.5 410.43L411.3 410.83L413.11 411.23L414.91 411.63L416.71 412.04L418.51 412.44L420.31 412.84L422.11 413.24L423.91 413.64L425.7 414.05L427.5 414.45L429.3 414.85L431.09 415.25L432.89 415.65L434.69 416.05L436.48 416.46L438.28 416.86L440.07 417.26L441.86 417.66L443.66 418.06L445.45 418.46L447.24 418.86L449.04 419.26L450.83 419.66L452.62 420.06L454.41 420.46L456.2 420.86L457.99 421.25L459.78 421.65L461.57 422.05L463.36 422.45L465.15 422.84L466.94 423.24L468.73 423.64L470.52 424.03L472.31 424.43L474.1 424.83L475.89 425.22L477.68 425.61L479.47 426.01L481.26 426.4L483.04 426.79L484.83 427.19L486.62 427.58L488.41 427.97L490.2 428.36L491.98 428.75L493.77 429.14L495.56 429.53L497.35 429.92L499.14 430.31L500.92 430.7L502.71 431.08L504.5 431.47L506.29 431.86L508.08 432.24L509.86 432.63L511.65 433.01L513.44 433.39L515.23 433.78L517.02 434.16L518.81 434.54L520.6 434.92L522.39 435.3L524.17 435.68L525.96 436.05L527.75 436.43L529.54 436.81L531.34 437.18L533.13 437.56L534.92 437.93L536.71 438.31L538.5 438.68L540.29 439.05L542.08 439.42L543.88 439.79L545.67 440.16L547.46 440.53L549.26 440.89L551.05 441.26L552.84 441.63L554.64 441.99L556.43 442.35L558.23 442.71L560.03 443.08L561.82 443.44L563.62 443.8L565.42 444.15L567.22 444.51L569.01 444.87L570.81 445.22L572.61 445.57L574.41 445.93L576.21 446.28L578.02 446.63L579.82 446.97L581.62 447.31L583.43 447.65L585.23 447.98L587.04 448.3L588.85 448.62L590.66 448.93L592.47 449.23L594.28 449.52L596.1 449.81" stroke="#00ff00" stroke-width="2.2" fill="none" stroke-linejoin="round"/>
<path d="M172 3.64L179 14.04L165 14.04ZM171.89 5.44L178.89 15.84L164.89 15.84ZM171.75 7.78L178.75 18.18L164.75 18.18ZM171.57 10.81L178.57 21.21L164.57 21.21ZM171.35 14.76L178.35 25.16L164.35 25.16ZM171.1 19.9L178.1 30.3L164.1 30.3ZM170.8 26.57L177.8 36.97L163.8 36.97ZM170.47 35.26L177.47 45.66L163.47 45.66ZM170.14 46.54L177.14 56.94L163.14 56.94ZM169.88 60.56L176.88 70.96L162.88 70.96ZM169.76 77.11L176.76 87.51L162.76 87.51ZM169.81 91.82L176.81 102.22L162.81 102.22ZM170.01 106.53L177.01 116.93L163.01 116.93ZM170.38 123.07L177.38 133.47L163.38 133.47ZM170.82 137.75L177.82 148.15L163.82 148.15ZM171.44 154.24L178.44 164.64L164.44 164.64ZM172.08 168.89L179.08 179.29L165.08 179.29ZM172.83 183.53L179.83 193.93L165.83 193.93ZM173.81 200.04L180.81 210.44L166.81 210.44ZM174.84 214.78L181.84 225.18L167.84 225.18ZM176.08 229.56L183.08 239.96L169.08 239.96ZM178.12 246.08L185.12 256.48L171.12 256.48ZM180.88 260.49L187.88 270.89L173.88 270.89ZM186.14 277.88L193.14 288.28L179.14 288.28ZM193.92 294.28L200.92 304.68L186.92 304.68ZM204.2 309.38L211.2 319.78L197.2 319.78ZM219.41 325.47L226.41 335.87L212.41 335.87ZM238.29 340.54L245.29 350.94L231.29 350.94ZM268.06 358.7L275.06 369.1L261.06 369.1ZM309.88 376.91L316.88 387.31L302.88 387.31ZM360.91 392.34L367.91 402.74L353.91 402.74ZM414.91 404.98L421.91 415.38L407.91 415.38ZM457.99 414.6L464.99 425L450.99 425ZM499.14 423.65L506.14 434.05L492.14 434.05ZM536.71 431.65L543.71 442.05L529.71 442.05ZM572.61 438.92L579.61 449.32L565.61 449.32ZM578.02 439.97L585.02 450.37L571.02 450.37ZM585.23 441.32L592.23 451.72L578.23 451.72ZM590.66 442.27L597.66 452.67L583.66 452.67ZM596.1 443.15L603.1 453.55L589.1 453.55Z" stroke="#00ff00" stroke-width="2.1" fill="none"/>
<path d="M168.3 11.34L175.3 21.74L161.3 21.74ZM175.8 11.34L182.8 21.74L168.8 21.74ZM167.5 18.34L174.5 28.74L160.5 28.74ZM176.5 18.34L183.5 28.74L169.5 28.74ZM172 7.34L179 17.74L165 17.74Z" stroke="#00ff00" stroke-width="2.1" fill="none"/>
<path d="M567.5 442.54L574.5 452.94L560.5 452.94ZM574.5 443.64L581.5 454.04L567.5 454.04ZM581 444.14L588 454.54L574 454.54ZM587 444.54L594 454.94L580 454.94ZM593 444.84L600 455.24L586 455.24Z" stroke="#00ff00" stroke-width="2.1" fill="none"/>
<path d="M172 10.3L171.91 12.18L171.82 14.07L171.73 15.95L171.64 17.83L171.56 19.71L171.47 21.59L171.39 23.47L171.32 25.35L171.24 27.22L171.17 29.1L171.09 30.97L171.02 32.84L170.95 34.72L170.89 36.59L170.82 38.46L170.76 40.33L170.7 42.2L170.64 44.07L170.58 45.93L170.53 47.8L170.48 49.67L170.42 51.53L170.37 53.4L170.32 55.26L170.28 57.13L170.23 58.99L170.19 60.85L170.14 62.71L170.1 64.57L170.06 66.44L170.02 68.3L169.99 70.16L169.95 72.02L169.92 73.88L169.88 75.74L169.85 77.59L169.82 79.45L169.79 81.31L169.76 83.17L169.73 85.03L169.71 86.89L169.68 88.74L169.65 90.6L169.63 92.46L169.61 94.32L169.59 96.17L169.57 98.03L169.55 99.89L169.53 101.75L169.51 103.6L169.49 105.46L169.47 107.32L169.46 109.18L169.44 111.03L169.43 112.89L169.41 114.75L169.4 116.61L169.39 118.47L169.37 120.33L169.36 122.19L169.35 124.05L169.34 125.91L169.33 127.77L169.31 129.63L169.3 131.49L169.29 133.35L169.28 135.21L169.27 137.08L169.26 138.94L169.26 140.8L169.25 142.67L169.24 144.53L169.23 146.4L169.22 148.27L169.21 150.13L169.2 152L169.19 153.87L169.18 155.74L169.17 157.61L169.16 159.48L169.15 161.35L169.14 163.23L169.13 165.1L169.12 166.98L169.11 168.85L169.1 170.73L169.09 172.61L169.08 174.48L169.07 176.36L169.06 178.24L169.05 180.13L169.04 182.01L169.04 183.89L169.03 185.77L169.03 187.66L169.03 189.54L169.03 191.42L169.03 193.31L169.04 195.19L169.05 197.08L169.06 198.96L169.08 200.85L169.1 202.73L169.13 204.61L169.16 206.5L169.2 208.38L169.24 210.27L169.28 212.15L169.34 214.03L169.4 215.92L169.46 217.8L169.53 219.68L169.61 221.56L169.69 223.44L169.79 225.32L169.89 227.2L169.99 229.07L170.11 230.95L170.24 232.83L170.37 234.7L170.51 236.57L170.66 238.44L170.82 240.32L170.99 242.18L171.18 244.05L171.37 245.92L171.57 247.78L171.78 249.65L172 251.51L172.24 253.37L172.49 255.22L172.75 257.08L173.02 258.93L173.3 260.79L173.6 262.64L173.91 264.48L174.23 266.33L174.56 268.17L174.92 270.01L175.28 271.85L175.66 273.68L176.06 275.51L176.47 277.33L176.9 279.15L177.35 280.96L177.82 282.76L178.3 284.56L178.81 286.35L179.33 288.13L179.88 289.9L180.45 291.67L181.04 293.42L181.65 295.16L182.28 296.9L182.94 298.62L183.62 300.33L184.32 302.02L185.05 303.71L185.81 305.38L186.59 307.03L187.4 308.68L188.24 310.3L189.11 311.92L190 313.51L190.92 315.09L191.87 316.65L192.86 318.2L193.87 319.73L194.9 321.24L195.97 322.73L197.06 324.21L198.18 325.67L199.32 327.11L200.49 328.54L201.69 329.94L202.9 331.33L204.14 332.71L205.4 334.06L206.69 335.4L207.99 336.72L209.32 338.03L210.66 339.31L212.03 340.58L213.41 341.83L214.81 343.07L216.23 344.28L217.67 345.48L219.12 346.66L220.59 347.83L222.07 348.97L223.57 350.1L225.08 351.21L226.6 352.31L228.14 353.38L229.69 354.44L231.25 355.48L232.82 356.5L234.4 357.51L235.99 358.49L237.59 359.46L239.2 360.42L240.81 361.35L242.44 362.27L244.08 363.18L245.72 364.07L247.37 364.94L249.03 365.8L250.7 366.65L252.37 367.48L254.05 368.29L255.74 369.09L257.44 369.88L259.14 370.66L260.85 371.42L262.56 372.18L264.28 372.92L266.01 373.64L267.74 374.36L269.48 375.07L271.22 375.76L272.97 376.45L274.72 377.12L276.48 377.79L278.24 378.45L280 379.09L281.77 379.73L283.54 380.37L285.32 380.99L287.1 381.6L288.88 382.21L290.66 382.81L292.45 383.41L294.24 384L296.03 384.58L297.82 385.16L299.62 385.73L301.41 386.3L303.21 386.86L305.01 387.42L306.8 387.97L308.6 388.52L310.4 389.07L312.2 389.62L314 390.16L315.8 390.69L317.6 391.23L319.4 391.76L321.21 392.29L323.01 392.81L324.81 393.33L326.61 393.85L328.42 394.37L330.22 394.88L332.02 395.39L333.83 395.9L335.63 396.4L337.44 396.9L339.24 397.4L341.05 397.89L342.86 398.38L344.66 398.87L346.47 399.36L348.28 399.84L350.08 400.32L351.89 400.8L353.7 401.27L355.51 401.74L357.32 402.21L359.13 402.68L360.94 403.14L362.75 403.6L364.56 404.06L366.37 404.52L368.18 404.97L369.99 405.42L371.8 405.87L373.61 406.32L375.43 406.76L377.24 407.2L379.05 407.64L380.87 408.07L382.68 408.51L384.49 408.94L386.31 409.37L388.12 409.8L389.94 410.22L391.76 410.64L393.57 411.06L395.39 411.48L397.2 411.9L399.02 412.31L400.84 412.72L402.66 413.13L404.47 413.54L406.29 413.95L408.11 414.35L409.93 414.75L411.75 415.15L413.57 415.55L415.39 415.94L417.21 416.34L419.03 416.73L420.85 417.12L422.67 417.51L424.49 417.9L426.32 418.28L428.14 418.67L429.96 419.05L431.78 419.43L433.61 419.81L435.43 420.18L437.25 420.56L439.08 420.93L440.9 421.3L442.73 421.67L444.55 422.04L446.38 422.41L448.2 422.78L450.03 423.14L451.86 423.5L453.68 423.87L455.51 424.23L457.34 424.59L459.16 424.94L460.99 425.3L462.82 425.66L464.65 426.01L466.48 426.36L468.31 426.72L470.13 427.07L471.96 427.42L473.79 427.77L475.62 428.11L477.45 428.46L479.29 428.81L481.12 429.15L482.95 429.49L484.78 429.84L486.61 430.18L488.44 430.52L490.28 430.86L492.11 431.2L493.94 431.54L495.77 431.88L497.61 432.21L499.44 432.55L501.28 432.88L503.11 433.22L504.94 433.55L506.78 433.89L508.61 434.22L510.45 434.55L512.29 434.89L514.12 435.22L515.96 435.55L517.79 435.88L519.63 436.21L521.47 436.54L523.31 436.87L525.14 437.2L526.98 437.52L528.82 437.85L530.66 438.18L532.5 438.51L534.33 438.83L536.17 439.16L538.01 439.49L539.85 439.82L541.69 440.14L543.53 440.47L545.37 440.79L547.21 441.12L549.05 441.45L550.9 441.77L552.74 442.1L554.58 442.43L556.42 442.75L558.26 443.08L560.11 443.41L561.95 443.73L563.79 444.06L565.63 444.39L567.48 444.71L569.32 445.04L571.16 445.37L573.01 445.7L574.85 446.03L576.7 446.35L578.54 446.68L580.39 447.01L582.23 447.34L584.08 447.67L585.92 448L587.77 448.34L589.61 448.67L591.46 449L593.31 449.33L595.15 449.67L597 450" stroke="#00ffff" stroke-width="2.2" fill="none" stroke-linejoin="round"/>
<path d="M169.49 10.3a2.51 2.2 0 1 0 5.02 0a2.51 2.2 0 1 0 -5.02 0M169.4 12.1a2.51 2.2 0 1 0 5.02 0a2.51 2.2 0 1 0 -5.02 0M169.29 14.43a2.51 2.2 0 1 0 5.02 0a2.51 2.2 0 1 0 -5.02 0M169.15 17.47a2.51 2.2 0 1 0 5.02 0a2.51 2.2 0 1 0 -5.02 0M168.97 21.42a2.51 2.2 0 1 0 5.02 0a2.51 2.2 0 1 0 -5.02 0M168.76 26.56a2.51 2.2 0 1 0 5.02 0a2.51 2.2 0 1 0 -5.02 0M168.5 33.24a2.51 2.2 0 1 0 5.02 0a2.51 2.2 0 1 0 -5.02 0M168.2 41.92a2.51 2.2 0 1 0 5.02 0a2.51 2.2 0 1 0 -5.02 0M167.9 51.92a2.51 2.2 0 1 0 5.02 0a2.51 2.2 0 1 0 -5.02 0M167.65 61.91a2.51 2.2 0 1 0 5.02 0a2.51 2.2 0 1 0 -5.02 0M167.44 71.91a2.51 2.2 0 1 0 5.02 0a2.51 2.2 0 1 0 -5.02 0M167.27 81.91a2.51 2.2 0 1 0 5.02 0a2.51 2.2 0 1 0 -5.02 0M167.13 91.91a2.51 2.2 0 1 0 5.02 0a2.51 2.2 0 1 0 -5.02 0M167.02 101.91a2.51 2.2 0 1 0 5.02 0a2.51 2.2 0 1 0 -5.02 0M166.93 111.91a2.51 2.2 0 1 0 5.02 0a2.51 2.2 0 1 0 -5.02 0M166.85 121.91a2.51 2.2 0 1 0 5.02 0a2.51 2.2 0 1 0 -5.02 0M166.79 131.91a2.51 2.2 0 1 0 5.02 0a2.51 2.2 0 1 0 -5.02 0M166.74 141.91a2.51 2.2 0 1 0 5.02 0a2.51 2.2 0 1 0 -5.02 0M166.69 151.91a2.51 2.2 0 1 0 5.02 0a2.51 2.2 0 1 0 -5.02 0M166.64 161.91a2.51 2.2 0 1 0 5.02 0a2.51 2.2 0 1 0 -5.02 0M166.59 171.91a2.51 2.2 0 1 0 5.02 0a2.51 2.2 0 1 0 -5.02 0M166.53 181.91a2.51 2.2 0 1 0 5.02 0a2.51 2.2 0 1 0 -5.02 0M166.52 191.91a2.51 2.2 0 1 0 5.02 0a2.51 2.2 0 1 0 -5.02 0M166.59 201.91a2.51 2.2 0 1 0 5.02 0a2.51 2.2 0 1 0 -5.02 0M166.77 211.91a2.51 2.2 0 1 0 5.02 0a2.51 2.2 0 1 0 -5.02 0M167.12 221.9a2.51 2.2 0 1 0 5.02 0a2.51 2.2 0 1 0 -5.02 0M167.66 231.88a2.51 2.2 0 1 0 5.02 0a2.51 2.2 0 1 0 -5.02 0M168.46 241.85a2.51 2.2 0 1 0 5.02 0a2.51 2.2 0 1 0 -5.02 0M169.53 251.79a2.51 2.2 0 1 0 5.02 0a2.51 2.2 0 1 0 -5.02 0M170.94 261.69a2.51 2.2 0 1 0 5.02 0a2.51 2.2 0 1 0 -5.02 0M172.71 271.53a2.51 2.2 0 1 0 5.02 0a2.51 2.2 0 1 0 -5.02 0M176.3 286.35a2.51 2.2 0 1 0 5.02 0a2.51 2.2 0 1 0 -5.02 0M181.11 300.33a2.51 2.2 0 1 0 5.02 0a2.51 2.2 0 1 0 -5.02 0M188.41 315.09a2.51 2.2 0 1 0 5.02 0a2.51 2.2 0 1 0 -5.02 0M199.18 329.94a2.51 2.2 0 1 0 5.02 0a2.51 2.2 0 1 0 -5.02 0M212.31 343.07a2.51 2.2 0 1 0 5.02 0a2.51 2.2 0 1 0 -5.02 0M231.89 357.51a2.51 2.2 0 1 0 5.02 0a2.51 2.2 0 1 0 -5.02 0M246.52 365.8a2.51 2.2 0 1 0 5.02 0a2.51 2.2 0 1 0 -5.02 0M263.5 373.64a2.51 2.2 0 1 0 5.02 0a2.51 2.2 0 1 0 -5.02 0M306.1 388.52a2.51 2.2 0 1 0 5.02 0a2.51 2.2 0 1 0 -5.02 0M401.97 413.54a2.51 2.2 0 1 0 5.02 0a2.51 2.2 0 1 0 -5.02 0M455.8 424.78a2.51 2.2 0 1 0 5.02 0a2.51 2.2 0 1 0 -5.02 0M499.04 432.93a2.51 2.2 0 1 0 5.02 0a2.51 2.2 0 1 0 -5.02 0M533.69 439.17a2.51 2.2 0 1 0 5.02 0a2.51 2.2 0 1 0 -5.02 0M561.41 444.08a2.51 2.2 0 1 0 5.02 0a2.51 2.2 0 1 0 -5.02 0M583.59 448.04a2.51 2.2 0 1 0 5.02 0a2.51 2.2 0 1 0 -5.02 0M594.49 450a2.51 2.2 0 1 0 5.02 0a2.51 2.2 0 1 0 -5.02 0" fill="#00ffff"/>
<path d="M172 10.3L171.9 12.22L171.79 14.13L171.69 16.04L171.59 17.95L171.49 19.87L171.39 21.78L171.3 23.68L171.21 25.59L171.11 27.5L171.03 29.4L170.94 31.31L170.85 33.21L170.77 35.12L170.68 37.02L170.6 38.92L170.52 40.82L170.44 42.72L170.36 44.62L170.29 46.52L170.21 48.41L170.14 50.31L170.07 52.21L170 54.1L169.93 56L169.86 57.89L169.79 59.78L169.73 61.68L169.66 63.57L169.6 65.46L169.54 67.35L169.48 69.24L169.41 71.13L169.36 73.02L169.3 74.91L169.24 76.8L169.18 78.69L169.13 80.58L169.07 82.46L169.02 84.35L168.96 86.24L168.91 88.13L168.86 90.01L168.81 91.9L168.75 93.79L168.7 95.67L168.65 97.56L168.6 99.44L168.56 101.33L168.51 103.22L168.46 105.1L168.41 106.99L168.36 108.87L168.32 110.76L168.27 112.65L168.22 114.53L168.18 116.42L168.13 118.3L168.09 120.19L168.04 122.08L167.99 123.96L167.95 125.85L167.9 127.74L167.86 129.63L167.81 131.51L167.77 133.4L167.72 135.29L167.68 137.18L167.63 139.07L167.58 140.96L167.54 142.85L167.49 144.74L167.44 146.63L167.4 148.52L167.35 150.41L167.3 152.31L167.25 154.2L167.21 156.09L167.16 157.99L167.11 159.88L167.06 161.78L167.01 163.67L166.96 165.57L166.9 167.47L166.85 169.37L166.8 171.27L166.74 173.17L166.69 175.07L166.64 176.97L166.58 178.87L166.52 180.78L166.46 182.68L166.41 184.59L166.35 186.49L166.29 188.4L166.22 190.31L166.16 192.22L166.1 194.13L166.04 196.04L165.97 197.95L165.91 199.87L165.85 201.78L165.79 203.69L165.73 205.61L165.67 207.52L165.62 209.44L165.57 211.36L165.52 213.27L165.48 215.19L165.44 217.11L165.4 219.02L165.37 220.94L165.35 222.86L165.33 224.78L165.31 226.69L165.31 228.61L165.31 230.53L165.31 232.44L165.33 234.36L165.35 236.27L165.38 238.19L165.42 240.1L165.46 242.01L165.52 243.93L165.59 245.84L165.66 247.75L165.75 249.66L165.85 251.57L165.96 253.48L166.08 255.38L166.21 257.29L166.35 259.19L166.51 261.09L166.68 263L166.87 264.9L167.07 266.8L167.28 268.69L167.51 270.59L167.75 272.48L168.01 274.37L168.28 276.26L168.57 278.15L168.88 280.03L169.21 281.91L169.55 283.78L169.92 285.65L170.31 287.51L170.72 289.36L171.15 291.21L171.61 293.04L172.09 294.87L172.59 296.68L173.13 298.49L173.69 300.28L174.27 302.06L174.89 303.82L175.54 305.57L176.21 307.31L176.92 309.03L177.66 310.73L178.43 312.42L179.24 314.08L180.07 315.73L180.95 317.36L181.85 318.97L182.79 320.57L183.76 322.14L184.76 323.7L185.79 325.24L186.85 326.76L187.94 328.26L189.06 329.75L190.2 331.21L191.37 332.66L192.56 334.09L193.78 335.51L195.03 336.91L196.3 338.28L197.59 339.65L198.9 340.99L200.24 342.32L201.6 343.63L202.97 344.92L204.37 346.2L205.79 347.46L207.22 348.7L208.67 349.93L210.14 351.14L211.62 352.33L213.12 353.51L214.64 354.67L216.16 355.81L217.71 356.94L219.26 358.05L220.83 359.15L222.4 360.23L223.99 361.29L225.59 362.34L227.2 363.37L228.81 364.39L230.44 365.39L232.07 366.38L233.71 367.35L235.35 368.3L237 369.24L238.66 370.17L240.33 371.08L242 371.98L243.68 372.87L245.37 373.74L247.06 374.6L248.76 375.44L250.46 376.27L252.17 377.09L253.89 377.89L255.61 378.69L257.34 379.47L259.07 380.24L260.81 380.99L262.56 381.74L264.31 382.47L266.06 383.2L267.82 383.91L269.59 384.61L271.36 385.3L273.13 385.98L274.91 386.65L276.69 387.31L278.48 387.96L280.27 388.6L282.07 389.23L283.87 389.86L285.67 390.47L287.48 391.07L289.29 391.67L291.1 392.26L292.92 392.84L294.74 393.41L296.57 393.98L298.39 394.53L300.22 395.08L302.06 395.62L303.89 396.16L305.73 396.69L307.57 397.21L309.41 397.73L311.26 398.24L313.1 398.74L314.95 399.24L316.8 399.74L318.66 400.23L320.51 400.71L322.37 401.19L324.22 401.66L326.08 402.13L327.94 402.6L329.8 403.06L331.66 403.52L333.52 403.97L335.39 404.42L337.25 404.87L339.11 405.32L340.98 405.76L342.84 406.2L344.71 406.64L346.57 407.07L348.44 407.51L350.3 407.94L352.16 408.37L354.03 408.8L355.89 409.23L357.75 409.66L359.62 410.08L361.48 410.51L363.34 410.93L365.2 411.35L367.06 411.77L368.92 412.19L370.78 412.61L372.64 413.03L374.5 413.44L376.36 413.86L378.22 414.27L380.07 414.68L381.93 415.09L383.79 415.5L385.65 415.91L387.5 416.31L389.36 416.72L391.22 417.12L393.07 417.52L394.93 417.92L396.79 418.32L398.64 418.71L400.5 419.11L402.35 419.5L404.21 419.89L406.06 420.29L407.92 420.67L409.78 421.06L411.63 421.45L413.49 421.83L415.34 422.21L417.2 422.6L419.05 422.97L420.91 423.35L422.76 423.73L424.62 424.1L426.47 424.48L428.33 424.85L430.18 425.22L432.04 425.58L433.89 425.95L435.75 426.31L437.6 426.68L439.46 427.04L441.31 427.4L443.17 427.75L445.03 428.11L446.88 428.46L448.74 428.82L450.59 429.17L452.45 429.51L454.31 429.86L456.16 430.21L458.02 430.55L459.88 430.89L461.74 431.23L463.6 431.57L465.45 431.9L467.31 432.23L469.17 432.57L471.03 432.89L472.89 433.22L474.75 433.55L476.61 433.87L478.47 434.19L480.33 434.51L482.19 434.83L484.06 435.15L485.92 435.46L487.78 435.77L489.65 436.08L491.51 436.39L493.37 436.69L495.24 437L497.1 437.3L498.97 437.6L500.83 437.9L502.7 438.19L504.57 438.48L506.44 438.77L508.31 439.06L510.17 439.35L512.04 439.63L513.91 439.92L515.79 440.2L517.66 440.47L519.53 440.75L521.4 441.02L523.28 441.29L525.15 441.56L527.02 441.83L528.9 442.09L530.78 442.35L532.65 442.61L534.53 442.87L536.41 443.13L538.29 443.38L540.17 443.63L542.05 443.88L543.93 444.12L545.81 444.37L547.7 444.61L549.58 444.85L551.47 445.08L553.35 445.32L555.24 445.55L557.13 445.78L559.02 446L560.91 446.23L562.8 446.45L564.69 446.67L566.58 446.88L568.47 447.1L570.37 447.31L572.26 447.52L574.16 447.72L576.06 447.93L577.96 448.13L579.86 448.33L581.76 448.52L583.66 448.72L585.56 448.91L587.46 449.1L589.37 449.28L591.28 449.47L593.18 449.65L595.09 449.82L597 450" stroke="#0000ff" stroke-width="2.2" fill="none" stroke-linejoin="round"/>
<path d="M169.49 10.3a2.51 2.2 0 1 0 5.02 0a2.51 2.2 0 1 0 -5.02 0M169.39 12.1a2.51 2.2 0 1 0 5.02 0a2.51 2.2 0 1 0 -5.02 0M169.27 14.43a2.51 2.2 0 1 0 5.02 0a2.51 2.2 0 1 0 -5.02 0M169.11 17.47a2.51 2.2 0 1 0 5.02 0a2.51 2.2 0 1 0 -5.02 0M168.9 21.42a2.51 2.2 0 1 0 5.02 0a2.51 2.2 0 1 0 -5.02 0M168.65 26.56a2.51 2.2 0 1 0 5.02 0a2.51 2.2 0 1 0 -5.02 0M168.34 33.23a2.51 2.2 0 1 0 5.02 0a2.51 2.2 0 1 0 -5.02 0M167.97 41.91a2.51 2.2 0 1 0 5.02 0a2.51 2.2 0 1 0 -5.02 0M167.57 51.9a2.51 2.2 0 1 0 5.02 0a2.51 2.2 0 1 0 -5.02 0M167.21 61.9a2.51 2.2 0 1 0 5.02 0a2.51 2.2 0 1 0 -5.02 0M166.88 71.89a2.51 2.2 0 1 0 5.02 0a2.51 2.2 0 1 0 -5.02 0M166.58 81.89a2.51 2.2 0 1 0 5.02 0a2.51 2.2 0 1 0 -5.02 0M166.3 91.88a2.51 2.2 0 1 0 5.02 0a2.51 2.2 0 1 0 -5.02 0M166.03 101.88a2.51 2.2 0 1 0 5.02 0a2.51 2.2 0 1 0 -5.02 0M165.78 111.88a2.51 2.2 0 1 0 5.02 0a2.51 2.2 0 1 0 -5.02 0M165.54 121.87a2.51 2.2 0 1 0 5.02 0a2.51 2.2 0 1 0 -5.02 0M165.3 131.87a2.51 2.2 0 1 0 5.02 0a2.51 2.2 0 1 0 -5.02 0M165.05 141.87a2.51 2.2 0 1 0 5.02 0a2.51 2.2 0 1 0 -5.02 0M164.81 151.86a2.51 2.2 0 1 0 5.02 0a2.51 2.2 0 1 0 -5.02 0M164.55 161.86a2.51 2.2 0 1 0 5.02 0a2.51 2.2 0 1 0 -5.02 0M164.27 171.86a2.51 2.2 0 1 0 5.02 0a2.51 2.2 0 1 0 -5.02 0M163.98 181.85a2.51 2.2 0 1 0 5.02 0a2.51 2.2 0 1 0 -5.02 0M163.67 191.85a2.51 2.2 0 1 0 5.02 0a2.51 2.2 0 1 0 -5.02 0M163.34 201.84a2.51 2.2 0 1 0 5.02 0a2.51 2.2 0 1 0 -5.02 0M163.05 211.84a2.51 2.2 0 1 0 5.02 0a2.51 2.2 0 1 0 -5.02 0M162.82 224.78a2.51 2.2 0 1 0 5.02 0a2.51 2.2 0 1 0 -5.02 0M162.91 240.1a2.51 2.2 0 1 0 5.02 0a2.51 2.2 0 1 0 -5.02 0M163.85 259.19a2.51 2.2 0 1 0 5.02 0a2.51 2.2 0 1 0 -5.02 0M165.24 272.48a2.51 2.2 0 1 0 5.02 0a2.51 2.2 0 1 0 -5.02 0M167.41 285.65a2.51 2.2 0 1 0 5.02 0a2.51 2.2 0 1 0 -5.02 0M170.62 298.49a2.51 2.2 0 1 0 5.02 0a2.51 2.2 0 1 0 -5.02 0M176.73 314.08a2.51 2.2 0 1 0 5.02 0a2.51 2.2 0 1 0 -5.02 0M184.34 326.76a2.51 2.2 0 1 0 5.02 0a2.51 2.2 0 1 0 -5.02 0M195.08 339.65a2.51 2.2 0 1 0 5.02 0a2.51 2.2 0 1 0 -5.02 0M209.11 352.33a2.51 2.2 0 1 0 5.02 0a2.51 2.2 0 1 0 -5.02 0M226.31 364.39a2.51 2.2 0 1 0 5.02 0a2.51 2.2 0 1 0 -5.02 0M258.31 380.99a2.51 2.2 0 1 0 5.02 0a2.51 2.2 0 1 0 -5.02 0M299.55 395.62a2.51 2.2 0 1 0 5.02 0a2.51 2.2 0 1 0 -5.02 0M349.66 408.37a2.51 2.2 0 1 0 5.02 0a2.51 2.2 0 1 0 -5.02 0M401.7 419.89a2.51 2.2 0 1 0 5.02 0a2.51 2.2 0 1 0 -5.02 0M455.65 430.57a2.51 2.2 0 1 0 5.02 0a2.51 2.2 0 1 0 -5.02 0M499.02 438a2.51 2.2 0 1 0 5.02 0a2.51 2.2 0 1 0 -5.02 0M533.85 443.12a2.51 2.2 0 1 0 5.02 0a2.51 2.2 0 1 0 -5.02 0M561.79 446.62a2.51 2.2 0 1 0 5.02 0a2.51 2.2 0 1 0 -5.02 0M584.19 449.02a2.51 2.2 0 1 0 5.02 0a2.51 2.2 0 1 0 -5.02 0M594.49 450a2.51 2.2 0 1 0 5.02 0a2.51 2.2 0 1 0 -5.02 0" fill="#0000ff"/>
<path d="M172 10.3L171.87 12.22L171.74 14.15L171.61 16.07L171.49 17.99L171.36 19.92L171.24 21.84L171.11 23.76L170.99 25.68L170.87 27.61L170.75 29.53L170.64 31.45L170.52 33.37L170.41 35.29L170.29 37.21L170.18 39.13L170.07 41.06L169.96 42.98L169.85 44.9L169.74 46.82L169.64 48.74L169.53 50.66L169.43 52.58L169.33 54.5L169.22 56.42L169.12 58.34L169.02 60.26L168.92 62.18L168.83 64.1L168.73 66.02L168.63 67.94L168.54 69.86L168.44 71.78L168.35 73.7L168.26 75.62L168.16 77.53L168.07 79.45L167.98 81.37L167.89 83.29L167.8 85.21L167.72 87.13L167.63 89.05L167.54 90.97L167.45 92.89L167.37 94.8L167.28 96.72L167.2 98.64L167.11 100.56L167.03 102.48L166.95 104.4L166.87 106.32L166.78 108.24L166.7 110.15L166.62 112.07L166.54 113.99L166.46 115.91L166.38 117.83L166.3 119.75L166.22 121.67L166.14 123.59L166.06 125.5L165.98 127.42L165.9 129.34L165.82 131.26L165.74 133.18L165.67 135.1L165.59 137.02L165.51 138.94L165.43 140.86L165.35 142.78L165.28 144.7L165.2 146.62L165.12 148.54L165.04 150.46L164.96 152.38L164.89 154.3L164.81 156.22L164.73 158.14L164.65 160.06L164.57 161.98L164.49 163.9L164.41 165.82L164.33 167.74L164.26 169.66L164.18 171.58L164.1 173.5L164.02 175.42L163.94 177.34L163.86 179.27L163.78 181.19L163.7 183.11L163.62 185.03L163.54 186.95L163.47 188.88L163.39 190.8L163.32 192.72L163.25 194.65L163.18 196.57L163.11 198.49L163.05 200.42L162.98 202.34L162.92 204.27L162.86 206.19L162.81 208.12L162.76 210.04L162.71 211.97L162.66 213.89L162.61 215.82L162.57 217.75L162.54 219.67L162.51 221.6L162.48 223.53L162.45 225.46L162.43 227.39L162.41 229.32L162.4 231.24L162.39 233.17L162.39 235.1L162.4 237.03L162.4 238.97L162.42 240.9L162.43 242.83L162.46 244.76L162.49 246.69L162.52 248.63L162.57 250.56L162.61 252.49L162.67 254.43L162.73 256.36L162.8 258.3L162.87 260.23L162.96 262.17L163.04 264.11L163.14 266.05L163.24 267.98L163.36 269.92L163.48 271.86L163.6 273.8L163.74 275.74L163.88 277.68L164.04 279.62L164.21 281.56L164.4 283.49L164.6 285.42L164.82 287.34L165.06 289.26L165.32 291.18L165.6 293.09L165.91 294.99L166.24 296.88L166.6 298.76L166.99 300.63L167.41 302.5L167.86 304.35L168.34 306.19L168.86 308.02L169.41 309.83L170 311.63L170.64 313.41L171.31 315.18L172.01 316.93L172.76 318.67L173.54 320.39L174.36 322.09L175.22 323.78L176.11 325.45L177.03 327.1L177.98 328.73L178.97 330.35L179.99 331.95L181.04 333.53L182.12 335.09L183.23 336.64L184.37 338.16L185.54 339.67L186.73 341.15L187.95 342.62L189.19 344.06L190.46 345.49L191.75 346.89L193.07 348.28L194.41 349.64L195.77 350.98L197.15 352.3L198.55 353.6L199.98 354.88L201.42 356.13L202.87 357.36L204.35 358.57L205.84 359.76L207.35 360.92L208.87 362.06L210.41 363.18L211.96 364.27L213.53 365.34L215.11 366.39L216.7 367.42L218.31 368.43L219.93 369.42L221.57 370.39L223.21 371.34L224.87 372.26L226.54 373.18L228.22 374.07L229.91 374.94L231.62 375.8L233.33 376.64L235.06 377.46L236.79 378.27L238.53 379.06L240.29 379.83L242.05 380.59L243.82 381.33L245.6 382.06L247.39 382.78L249.19 383.48L250.99 384.17L252.8 384.85L254.62 385.51L256.45 386.16L258.28 386.8L260.12 387.43L261.96 388.05L263.81 388.66L265.66 389.26L267.52 389.85L269.39 390.43L271.25 391L273.12 391.56L275 392.11L276.88 392.66L278.76 393.2L280.65 393.73L282.53 394.26L284.42 394.78L286.31 395.29L288.21 395.8L290.1 396.31L291.99 396.81L293.89 397.31L295.79 397.8L297.68 398.29L299.58 398.78L301.47 399.26L303.37 399.74L305.26 400.22L307.15 400.7L309.05 401.18L310.94 401.65L312.83 402.12L314.72 402.59L316.61 403.06L318.5 403.52L320.39 403.98L322.28 404.44L324.17 404.9L326.06 405.35L327.95 405.8L329.84 406.25L331.73 406.7L333.61 407.15L335.5 407.59L337.39 408.03L339.27 408.47L341.16 408.91L343.04 409.34L344.93 409.78L346.81 410.21L348.7 410.63L350.58 411.06L352.46 411.48L354.35 411.9L356.23 412.32L358.11 412.74L360 413.16L361.88 413.57L363.76 413.98L365.64 414.39L367.52 414.79L369.41 415.2L371.29 415.6L373.17 416L375.05 416.4L376.93 416.79L378.81 417.19L380.69 417.58L382.57 417.97L384.45 418.36L386.33 418.74L388.21 419.12L390.09 419.51L391.97 419.88L393.85 420.26L395.73 420.64L397.61 421.01L399.49 421.38L401.37 421.75L403.25 422.12L405.13 422.48L407.01 422.84L408.89 423.2L410.77 423.56L412.65 423.92L414.54 424.27L416.42 424.63L418.3 424.98L420.18 425.33L422.06 425.67L423.94 426.02L425.82 426.36L427.7 426.7L429.58 427.04L431.46 427.38L433.34 427.72L435.23 428.05L437.11 428.38L438.99 428.71L440.87 429.04L442.76 429.36L444.64 429.69L446.52 430.01L448.41 430.33L450.29 430.65L452.17 430.96L454.06 431.28L455.94 431.59L457.83 431.9L459.71 432.21L461.6 432.52L463.48 432.82L465.37 433.13L467.26 433.43L469.14 433.73L471.03 434.03L472.92 434.32L474.81 434.62L476.69 434.91L478.58 435.2L480.47 435.49L482.36 435.78L484.25 436.06L486.14 436.35L488.04 436.63L489.93 436.91L491.82 437.19L493.71 437.46L495.61 437.74L497.5 438.01L499.4 438.28L501.29 438.55L503.19 438.82L505.08 439.09L506.98 439.35L508.88 439.62L510.77 439.88L512.67 440.14L514.57 440.39L516.47 440.65L518.37 440.91L520.27 441.16L522.18 441.41L524.08 441.66L525.98 441.91L527.89 442.16L529.79 442.4L531.7 442.64L533.6 442.89L535.51 443.13L537.42 443.36L539.33 443.6L541.24 443.84L543.15 444.07L545.06 444.3L546.97 444.53L548.88 444.76L550.8 444.99L552.71 445.22L554.63 445.44L556.54 445.66L558.46 445.88L560.38 446.1L562.3 446.32L564.22 446.54L566.14 446.76L568.06 446.97L569.98 447.18L571.9 447.39L573.83 447.6L575.75 447.81L577.68 448.02L579.61 448.22L581.54 448.42L583.46 448.63L585.4 448.83L587.33 449.03L589.26 449.22L591.19 449.42L593.13 449.62L595.06 449.81L597 450" stroke="#ff0000" stroke-width="2.2" fill="none" stroke-linejoin="round"/>
<path d="M169.49 10.3a2.51 2.2 0 1 0 5.02 0a2.51 2.2 0 1 0 -5.02 0M169.37 12.1a2.51 2.2 0 1 0 5.02 0a2.51 2.2 0 1 0 -5.02 0M169.21 14.43a2.51 2.2 0 1 0 5.02 0a2.51 2.2 0 1 0 -5.02 0M169.01 17.47a2.51 2.2 0 1 0 5.02 0a2.51 2.2 0 1 0 -5.02 0M168.76 21.41a2.51 2.2 0 1 0 5.02 0a2.51 2.2 0 1 0 -5.02 0M168.43 26.54a2.51 2.2 0 1 0 5.02 0a2.51 2.2 0 1 0 -5.02 0M168.02 33.21a2.51 2.2 0 1 0 5.02 0a2.51 2.2 0 1 0 -5.02 0M167.52 41.89a2.51 2.2 0 1 0 5.02 0a2.51 2.2 0 1 0 -5.02 0M166.96 51.87a2.51 2.2 0 1 0 5.02 0a2.51 2.2 0 1 0 -5.02 0M166.43 61.86a2.51 2.2 0 1 0 5.02 0a2.51 2.2 0 1 0 -5.02 0M165.93 71.85a2.51 2.2 0 1 0 5.02 0a2.51 2.2 0 1 0 -5.02 0M165.45 81.83a2.51 2.2 0 1 0 5.02 0a2.51 2.2 0 1 0 -5.02 0M164.99 91.82a2.51 2.2 0 1 0 5.02 0a2.51 2.2 0 1 0 -5.02 0M164.55 101.81a2.51 2.2 0 1 0 5.02 0a2.51 2.2 0 1 0 -5.02 0M164.12 111.8a2.51 2.2 0 1 0 5.02 0a2.51 2.2 0 1 0 -5.02 0M163.7 121.8a2.51 2.2 0 1 0 5.02 0a2.51 2.2 0 1 0 -5.02 0M163.29 131.79a2.51 2.2 0 1 0 5.02 0a2.51 2.2 0 1 0 -5.02 0M162.89 141.78a2.51 2.2 0 1 0 5.02 0a2.51 2.2 0 1 0 -5.02 0M162.48 151.77a2.51 2.2 0 1 0 5.02 0a2.51 2.2 0 1 0 -5.02 0M162.07 161.76a2.51 2.2 0 1 0 5.02 0a2.51 2.2 0 1 0 -5.02 0M161.66 171.75a2.51 2.2 0 1 0 5.02 0a2.51 2.2 0 1 0 -5.02 0M161.25 181.74a2.51 2.2 0 1 0 5.02 0a2.51 2.2 0 1 0 -5.02 0M160.85 191.74a2.51 2.2 0 1 0 5.02 0a2.51 2.2 0 1 0 -5.02 0M160.5 201.73a2.51 2.2 0 1 0 5.02 0a2.51 2.2 0 1 0 -5.02 0M160.2 211.73a2.51 2.2 0 1 0 5.02 0a2.51 2.2 0 1 0 -5.02 0M160 221.72a2.51 2.2 0 1 0 5.02 0a2.51 2.2 0 1 0 -5.02 0M159.89 231.72a2.51 2.2 0 1 0 5.02 0a2.51 2.2 0 1 0 -5.02 0M159.92 241.72a2.51 2.2 0 1 0 5.02 0a2.51 2.2 0 1 0 -5.02 0M160.22 256.36a2.51 2.2 0 1 0 5.02 0a2.51 2.2 0 1 0 -5.02 0M161.09 273.8a2.51 2.2 0 1 0 5.02 0a2.51 2.2 0 1 0 -5.02 0M162.09 285.42a2.51 2.2 0 1 0 5.02 0a2.51 2.2 0 1 0 -5.02 0M164.09 298.76a2.51 2.2 0 1 0 5.02 0a2.51 2.2 0 1 0 -5.02 0M167.5 311.63a2.51 2.2 0 1 0 5.02 0a2.51 2.2 0 1 0 -5.02 0M172.71 323.78a2.51 2.2 0 1 0 5.02 0a2.51 2.2 0 1 0 -5.02 0M180.72 336.64a2.51 2.2 0 1 0 5.02 0a2.51 2.2 0 1 0 -5.02 0M190.56 348.28a2.51 2.2 0 1 0 5.02 0a2.51 2.2 0 1 0 -5.02 0M204.84 360.92a2.51 2.2 0 1 0 5.02 0a2.51 2.2 0 1 0 -5.02 0M222.36 372.26a2.51 2.2 0 1 0 5.02 0a2.51 2.2 0 1 0 -5.02 0M255.77 386.8a2.51 2.2 0 1 0 5.02 0a2.51 2.2 0 1 0 -5.02 0M297.07 398.78a2.51 2.2 0 1 0 5.02 0a2.51 2.2 0 1 0 -5.02 0M348.07 411.06a2.51 2.2 0 1 0 5.02 0a2.51 2.2 0 1 0 -5.02 0M402.63 422.48a2.51 2.2 0 1 0 5.02 0a2.51 2.2 0 1 0 -5.02 0M456.77 432.14a2.51 2.2 0 1 0 5.02 0a2.51 2.2 0 1 0 -5.02 0M500.27 438.76a2.51 2.2 0 1 0 5.02 0a2.51 2.2 0 1 0 -5.02 0M535.16 443.4a2.51 2.2 0 1 0 5.02 0a2.51 2.2 0 1 0 -5.02 0M563.13 446.7a2.51 2.2 0 1 0 5.02 0a2.51 2.2 0 1 0 -5.02 0M585.53 449.1a2.51 2.2 0 1 0 5.02 0a2.51 2.2 0 1 0 -5.02 0M594.49 450a2.51 2.2 0 1 0 5.02 0a2.51 2.2 0 1 0 -5.02 0" fill="#ff0000"/>
<path d="M172 10.3L171.71 12.24L171.42 14.18L171.14 16.13L170.86 18.07L170.59 20.01L170.32 21.95L170.06 23.89L169.81 25.83L169.55 27.77L169.31 29.71L169.07 31.64L168.83 33.58L168.6 35.52L168.37 37.46L168.15 39.39L167.94 41.33L167.73 43.27L167.52 45.2L167.32 47.14L167.12 49.08L166.92 51.01L166.73 52.95L166.55 54.88L166.37 56.82L166.19 58.75L166.02 60.68L165.85 62.62L165.69 64.55L165.52 66.49L165.37 68.42L165.22 70.35L165.07 72.29L164.92 74.22L164.78 76.15L164.64 78.09L164.51 80.02L164.37 81.95L164.25 83.88L164.12 85.82L164 87.75L163.88 89.68L163.77 91.62L163.65 93.55L163.55 95.48L163.44 97.41L163.34 99.35L163.24 101.28L163.14 103.21L163.04 105.15L162.95 107.08L162.86 109.01L162.77 110.94L162.69 112.88L162.61 114.81L162.53 116.75L162.45 118.68L162.37 120.61L162.3 122.55L162.23 124.48L162.16 126.42L162.09 128.35L162.02 130.29L161.96 132.22L161.9 134.16L161.84 136.09L161.78 138.03L161.72 139.97L161.67 141.9L161.61 143.84L161.56 145.78L161.51 147.71L161.46 149.65L161.41 151.59L161.36 153.53L161.31 155.47L161.27 157.41L161.22 159.35L161.18 161.29L161.14 163.23L161.1 165.17L161.05 167.11L161.01 169.06L160.97 171L160.93 172.94L160.89 174.88L160.85 176.83L160.82 178.77L160.78 180.72L160.74 182.66L160.7 184.61L160.66 186.56L160.63 188.51L160.59 190.45L160.55 192.4L160.51 194.35L160.47 196.3L160.43 198.25L160.4 200.2L160.36 202.15L160.32 204.11L160.28 206.06L160.24 208.01L160.19 209.97L160.15 211.93L160.11 213.88L160.06 215.84L160.02 217.8L159.97 219.75L159.93 221.71L159.88 223.67L159.83 225.63L159.78 227.6L159.73 229.56L159.68 231.52L159.62 233.49L159.57 235.45L159.51 237.42L159.46 239.38L159.41 241.35L159.36 243.32L159.31 245.28L159.27 247.25L159.23 249.22L159.19 251.18L159.16 253.15L159.14 255.12L159.12 257.09L159.1 259.05L159.1 261.02L159.1 262.98L159.11 264.95L159.13 266.91L159.15 268.88L159.19 270.84L159.24 272.8L159.3 274.76L159.37 276.72L159.45 278.68L159.55 280.64L159.66 282.59L159.78 284.55L159.92 286.5L160.07 288.45L160.24 290.4L160.42 292.35L160.62 294.3L160.84 296.24L161.08 298.18L161.33 300.12L161.61 302.06L161.91 303.99L162.23 305.92L162.58 307.83L162.96 309.74L163.37 311.63L163.81 313.51L164.29 315.38L164.81 317.22L165.37 319.05L165.97 320.86L166.62 322.65L167.31 324.42L168.05 326.16L168.83 327.88L169.66 329.57L170.53 331.24L171.44 332.89L172.39 334.52L173.39 336.12L174.42 337.7L175.49 339.25L176.6 340.79L177.74 342.3L178.92 343.79L180.13 345.25L181.38 346.69L182.65 348.11L183.96 349.51L185.3 350.89L186.66 352.24L188.05 353.57L189.47 354.88L190.92 356.17L192.39 357.43L193.88 358.68L195.39 359.9L196.93 361.1L198.48 362.28L200.06 363.44L201.65 364.57L203.26 365.69L204.88 366.78L206.52 367.86L208.18 368.91L209.85 369.94L211.52 370.95L213.21 371.94L214.91 372.91L216.62 373.86L218.35 374.78L220.08 375.7L221.81 376.59L223.56 377.46L225.32 378.32L227.09 379.16L228.86 379.98L230.64 380.79L232.43 381.58L234.23 382.35L236.04 383.11L237.85 383.85L239.66 384.58L241.49 385.3L243.32 386L245.15 386.69L246.99 387.37L248.84 388.03L250.69 388.68L252.54 389.33L254.4 389.96L256.26 390.58L258.13 391.19L260 391.79L261.87 392.38L263.74 392.96L265.62 393.53L267.5 394.1L269.38 394.66L271.26 395.21L273.14 395.75L275.03 396.29L276.91 396.82L278.79 397.35L280.68 397.87L282.56 398.39L284.45 398.9L286.33 399.4L288.22 399.9L290.1 400.4L291.99 400.89L293.88 401.37L295.76 401.86L297.65 402.33L299.54 402.8L301.43 403.27L303.31 403.74L305.2 404.2L307.09 404.65L308.98 405.1L310.87 405.55L312.76 405.99L314.65 406.43L316.54 406.87L318.43 407.3L320.32 407.73L322.22 408.15L324.11 408.58L326 409L327.9 409.41L329.79 409.82L331.68 410.23L333.58 410.64L335.47 411.05L337.37 411.45L339.27 411.85L341.16 412.24L343.06 412.64L344.96 413.03L346.86 413.42L348.75 413.81L350.65 414.19L352.55 414.58L354.45 414.96L356.36 415.34L358.26 415.72L360.16 416.09L362.06 416.47L363.96 416.84L365.87 417.22L367.77 417.59L369.68 417.96L371.58 418.33L373.49 418.7L375.4 419.06L377.3 419.43L379.21 419.79L381.12 420.16L383.03 420.52L384.94 420.88L386.85 421.24L388.76 421.6L390.67 421.95L392.58 422.31L394.5 422.66L396.41 423.01L398.32 423.37L400.24 423.72L402.15 424.06L404.07 424.41L405.98 424.76L407.9 425.1L409.81 425.44L411.73 425.78L413.65 426.12L415.56 426.46L417.48 426.8L419.4 427.13L421.32 427.47L423.24 427.8L425.16 428.13L427.08 428.46L429 428.78L430.92 429.11L432.84 429.43L434.76 429.76L436.69 430.08L438.61 430.4L440.53 430.71L442.46 431.03L444.38 431.34L446.3 431.66L448.23 431.97L450.15 432.28L452.08 432.59L454 432.89L455.93 433.2L457.85 433.5L459.78 433.8L461.71 434.1L463.64 434.4L465.56 434.69L467.49 434.98L469.42 435.28L471.35 435.57L473.27 435.85L475.2 436.14L477.13 436.43L479.06 436.71L480.99 436.99L482.92 437.27L484.85 437.55L486.78 437.82L488.71 438.09L490.64 438.37L492.57 438.63L494.5 438.9L496.44 439.17L498.37 439.43L500.3 439.69L502.23 439.95L504.16 440.21L506.1 440.47L508.03 440.72L509.96 440.97L511.89 441.22L513.83 441.47L515.76 441.71L517.69 441.96L519.63 442.2L521.56 442.44L523.49 442.67L525.43 442.91L527.36 443.14L529.29 443.37L531.23 443.6L533.16 443.83L535.1 444.05L537.03 444.27L538.96 444.49L540.9 444.71L542.83 444.92L544.77 445.14L546.7 445.35L548.64 445.56L550.57 445.76L552.51 445.97L554.44 446.17L556.38 446.37L558.31 446.56L560.25 446.76L562.18 446.95L564.12 447.14L566.05 447.33L567.98 447.51L569.92 447.7L571.85 447.88L573.79 448.06L575.72 448.23L577.66 448.4L579.59 448.58L581.53 448.74L583.46 448.91L585.4 449.07L587.33 449.23L589.26 449.39L591.2 449.55L593.13 449.7L595.07 449.85L597 450" stroke="#00ff00" stroke-width="2.2" fill="none" stroke-dasharray="9.2 8.1"/>
<path d="M60.3 541.2L60.3 121.2M60.3 541.2L702.5 560M702.5 560L813.8 451.5" stroke="#262626" stroke-width="1.5" fill="none"/>
<path d="M60.3 541.2L43.31 540.7M702.5 560L691.33 570.89M702.5 560L718.49 560.47M60.3 457.2L43.31 456.7M574.06 556.24L562.89 567.13M724.76 538.3L740.75 538.77M60.3 373.2L43.31 372.7M445.62 552.48L434.45 563.37M747.02 516.6L763.01 517.07M60.3 289.2L43.31 288.7M317.18 548.72L306.01 559.61M769.28 494.9L785.27 495.37M60.3 205.2L43.31 204.7M188.74 544.96L177.57 555.85M791.54 473.2L807.53 473.67M60.3 121.2L43.31 120.7M60.3 541.2L49.13 552.09M813.8 451.5L829.79 451.97" stroke="#262626" stroke-width="1.4" fill="none"/>
<text transform="translate(34.5 548.9) scale(1.07 1)" text-anchor="end" font-size="21.5">0</text>
<text transform="translate(34.5 464.9) scale(1.07 1)" text-anchor="end" font-size="21.5">0.2</text>
<text transform="translate(34.5 380.9) scale(1.07 1)" text-anchor="end" font-size="21.5">0.4</text>
<text transform="translate(34.5 296.9) scale(1.07 1)" text-anchor="end" font-size="21.5">0.6</text>
<text transform="translate(34.5 212.9) scale(1.07 1)" text-anchor="end" font-size="21.5">0.8</text>
<path d="M29.9 114.2V128.5M29.6 114.8C28.3 117.2 26.3 118.4 23.8 119.1" stroke="#262626" stroke-width="2.05" fill="none"/>
<text transform="translate(685.53 599.59) scale(1.07 1)" text-anchor="middle" font-size="21.5">0</text>
<text transform="translate(557.09 595.83) scale(1.07 1)" text-anchor="middle" font-size="21.5">0.2</text>
<text transform="translate(428.65 592.07) scale(1.07 1)" text-anchor="middle" font-size="21.5">0.4</text>
<text transform="translate(300.21 588.31) scale(1.07 1)" text-anchor="middle" font-size="21.5">0.6</text>
<text transform="translate(171.77 584.55) scale(1.07 1)" text-anchor="middle" font-size="21.5">0.8</text>
<path d="M43.3 564.9V579.3M43 565.5C41.7 567.9 39.7 569.1 37.2 569.8" stroke="#262626" stroke-width="2.05" fill="none"/>
<text transform="translate(728.19 583.27) scale(1.07 1)" text-anchor="start" font-size="21.5">0</text>
<text transform="translate(750.45 561.57) scale(1.07 1)" text-anchor="start" font-size="21.5">0.2</text>
<text transform="translate(772.71 539.87) scale(1.07 1)" text-anchor="start" font-size="21.5">0.4</text>
<text transform="translate(794.97 518.17) scale(1.07 1)" text-anchor="start" font-size="21.5">0.6</text>
<text transform="translate(817.23 496.47) scale(1.07 1)" text-anchor="start" font-size="21.5">0.8</text>
<path d="M847.9 460.4V474M847.6 461C846.3 463.4 844.3 464.6 841.8 465.3" stroke="#262626" stroke-width="2.05" fill="none"/>
<text transform="translate(48.3 85) scale(1.12 1)" text-anchor="middle" font-size="23.6">ρ</text>
<text transform="translate(458 621.5) scale(1.1 1)" text-anchor="middle" font-size="23.6">v</text>
<text transform="translate(814.2 599.5) scale(1.1 1)" text-anchor="middle" font-size="23.6">μ</text>
<rect x="633.3" y="29.8" width="161.5" height="284.8" fill="#fff" stroke="#262626" stroke-width="1.4"/>
<path d="M667.32 46.2H681.28M674.3 39.8V52.6" stroke="#ff0000" stroke-width="2.2" fill="none"/>
<text transform="translate(714.6 52.9) scale(1.125 1)" font-size="18.4">R13=0</text>
<path d="M640.2 71.63H709.3" stroke="#ff0000" stroke-width="2.2"/>
<text transform="translate(714.6 78.33) scale(1.125 1)" font-size="18.4">R13=5</text>
<path d="M667.32 97.06H681.28M674.3 90.66V103.46" stroke="#0000ff" stroke-width="2.2" fill="none"/>
<text transform="translate(714.6 103.76) scale(1.125 1)" font-size="18.4">R13=10</text>
<path d="M640.2 122.49H709.3" stroke="#ff00ff" stroke-width="2.2"/>
<path d="M674.3 114.48L676.48 120.63L683.53 120.63L677.82 124.43L680 130.58L674.3 126.78L668.6 130.58L670.78 124.43L665.07 120.63L672.12 120.63Z" fill="#ff00ff" stroke="#ff00ff" stroke-width="1"/>
<text transform="translate(714.6 129.19) scale(1.125 1)" font-size="18.4">R13=15</text>
<path d="M640.2 147.92H709.3M667.75 147.92a6.55 5.75 0 1 0 13.11 0a6.55 5.75 0 1 0 -13.11 0" stroke="#ff0000" stroke-width="2.2" fill="none"/>
<text transform="translate(714.6 154.62) scale(1.125 1)" font-size="18.4">R13=20</text>
<path d="M640.2 173.35H709.3M667.75 173.35a6.55 5.75 0 1 0 13.11 0a6.55 5.75 0 1 0 -13.11 0" stroke="#0000ff" stroke-width="2.2" fill="none"/>
<text transform="translate(714.6 180.05) scale(1.125 1)" font-size="18.4">R13=25</text>
<path d="M640.2 198.78H709.3M674.3 192.12L681.3 202.52L667.3 202.52Z" stroke="#00ff00" stroke-width="2.2" fill="none"/>
<text transform="translate(714.6 205.48) scale(1.125 1)" font-size="18.4">R13=30</text>
<path d="M640.2 224.21H709.3" stroke="#00ffff" stroke-width="2.2"/><circle cx="674.3" cy="224.21" r="2.4" fill="#00ffff"/>
<text transform="translate(714.6 230.91) scale(1.125 1)" font-size="18.4">R13=35</text>
<path d="M640.2 249.64H709.3" stroke="#0000ff" stroke-width="2.2"/><circle cx="674.3" cy="249.64" r="2.4" fill="#0000ff"/>
<text transform="translate(714.6 256.34) scale(1.125 1)" font-size="18.4">R13=40</text>
<path d="M640.2 275.07H709.3" stroke="#ff0000" stroke-width="2.2"/><circle cx="674.3" cy="275.07" r="2.4" fill="#ff0000"/>
<text transform="translate(714.6 281.77) scale(1.125 1)" font-size="18.4">R13=45</text>
<path d="M640.6 300.5H702.2" stroke="#00ff00" stroke-width="2.2" stroke-dasharray="9.2 8.1"/>
<text transform="translate(714.6 307.2) scale(1.125 1)" font-size="18.4">R13=50</text>
</svg>
</body></html>
